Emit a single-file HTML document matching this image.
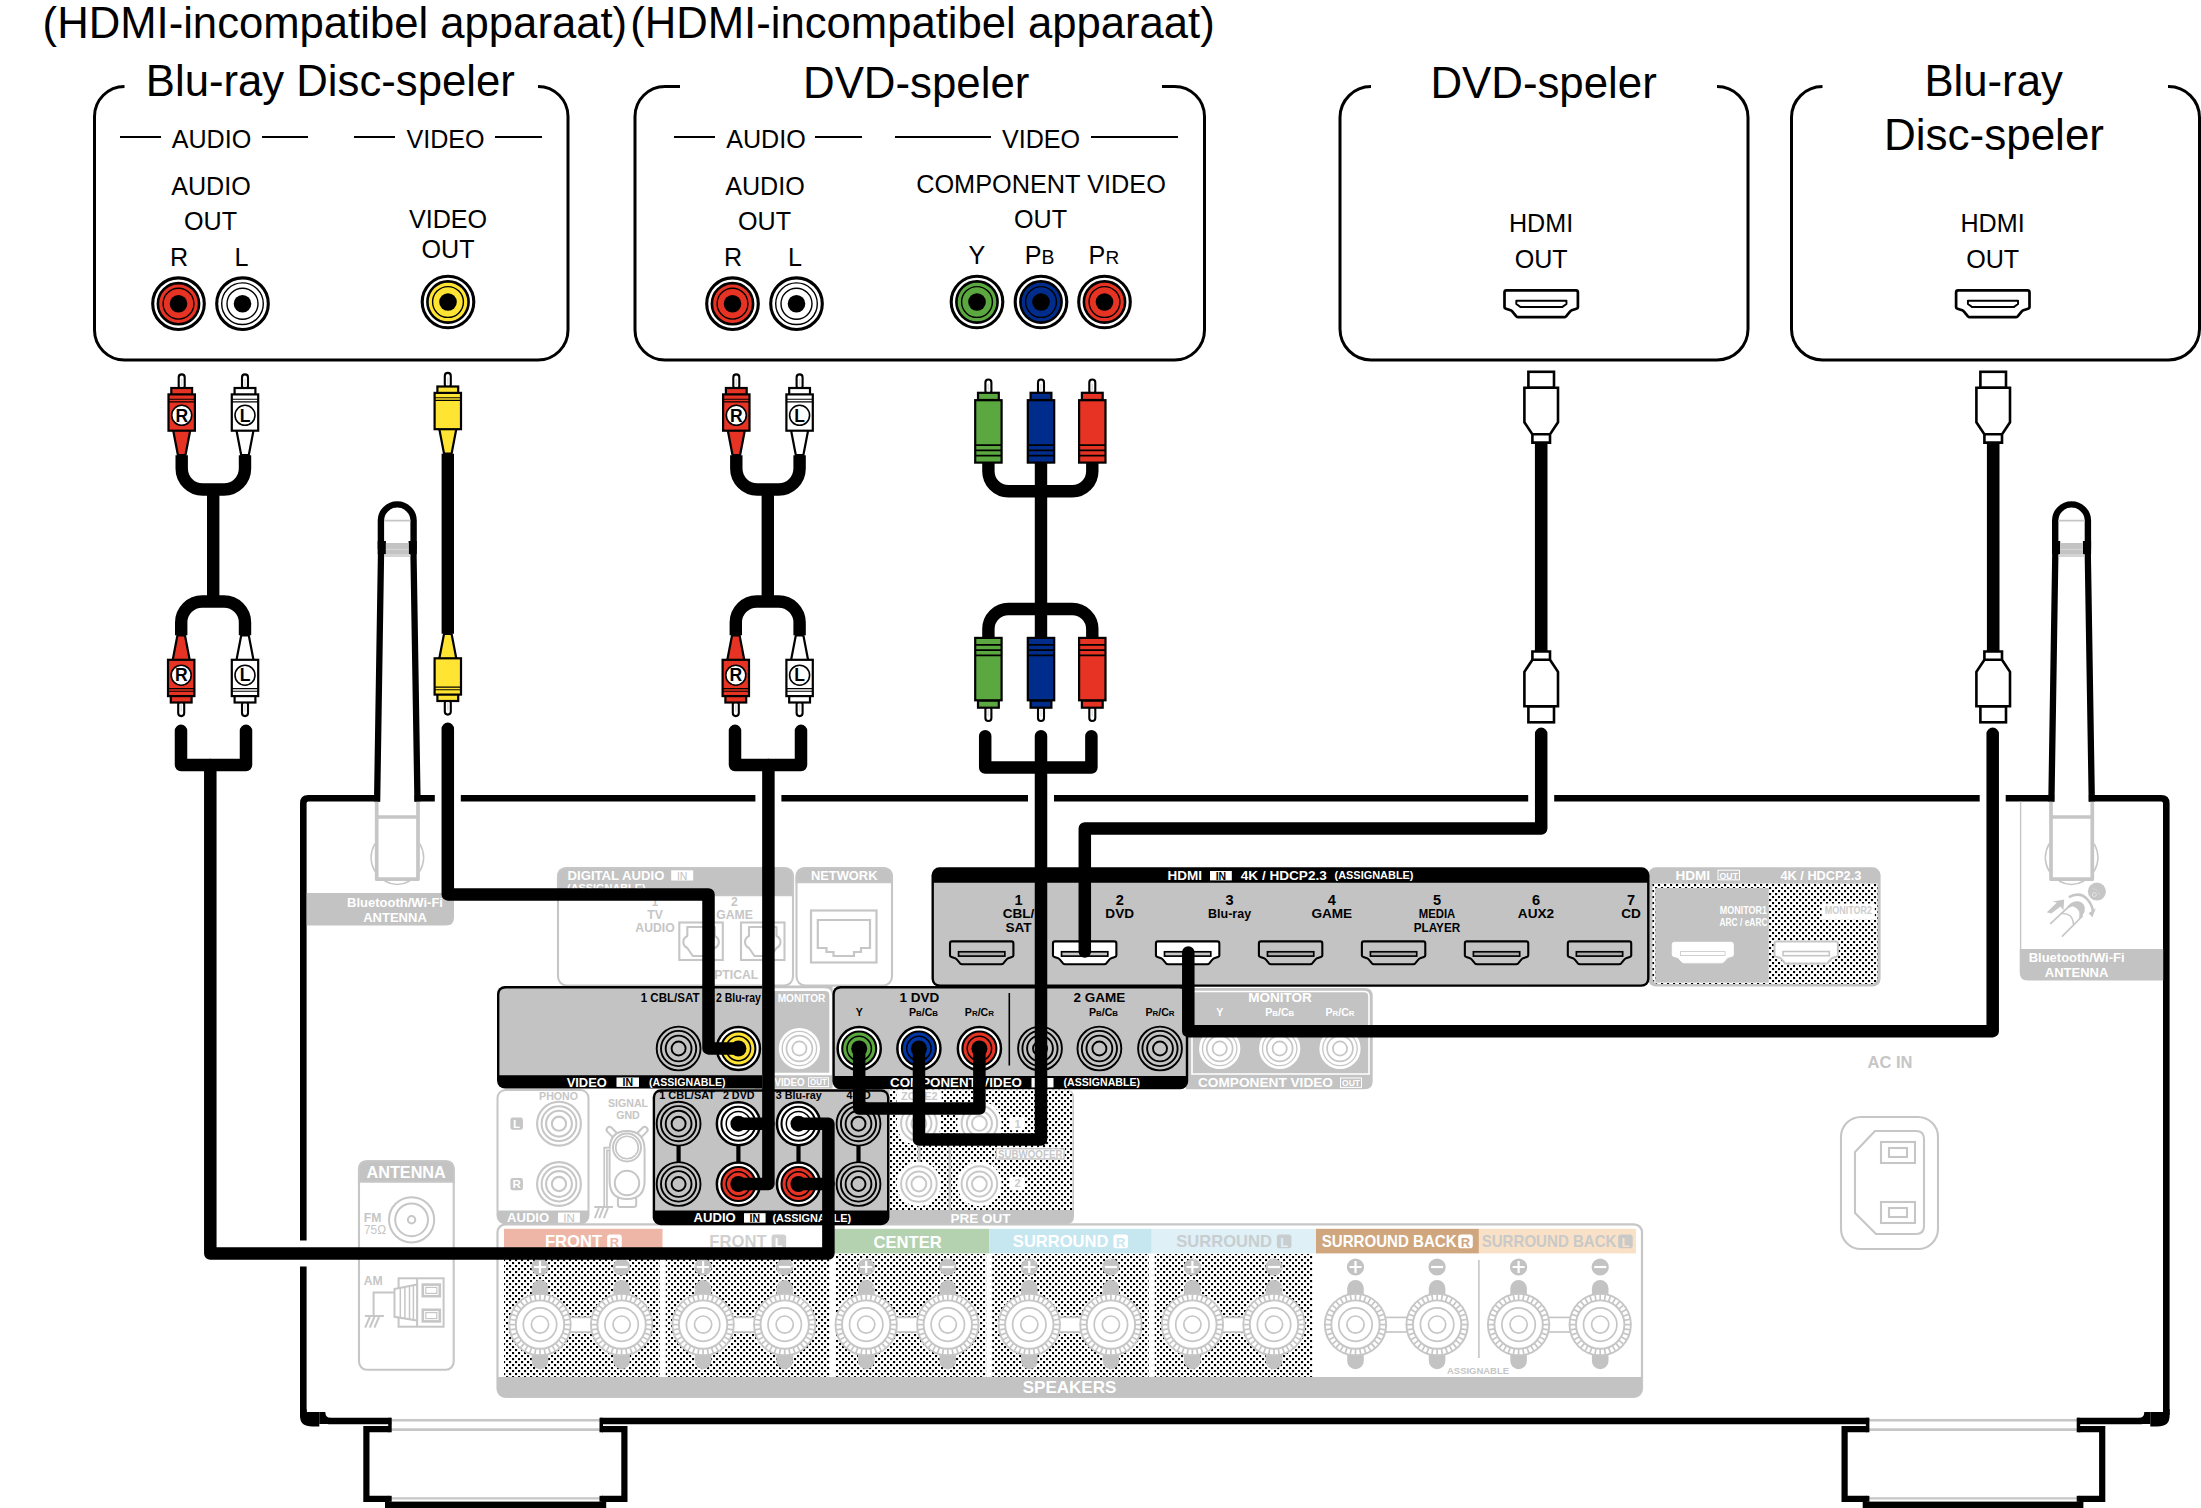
<!DOCTYPE html>
<html><head><meta charset="utf-8"><title>Aansluitingen</title>
<style>html,body{margin:0;padding:0;background:#fff}svg{display:block}text{font-family:"Liberation Sans",sans-serif}</style>
</head><body>
<svg width="2201" height="1508" viewBox="0 0 2201 1508">
<rect width="2201" height="1508" fill="#fff"/>
<defs>
<pattern id="dots" x="2" y="2" width="6" height="6" patternUnits="userSpaceOnUse">
<rect x="0" y="0" width="6" height="6" fill="#fff"/>
<rect x="0" y="0" width="2.1" height="2.1" fill="#000"/><rect x="3" y="3" width="2.1" height="2.1" fill="#000"/>
</pattern>
</defs>
<text x="42.6" y="37.8" font-size="43.65" text-anchor="start" font-weight="normal" fill="#000" >(HDMI-incompatibel apparaat)</text>
<text x="630.2" y="37.8" font-size="43.65" text-anchor="start" font-weight="normal" fill="#000" >(HDMI-incompatibel apparaat)</text>
<path d="M124.5,86.5 H124.5 A30,30 0 0 0 94.5,116.5 V330 A30,30 0 0 0 124.5,360 H538 A30,30 0 0 0 568,330 V116.5 A30,30 0 0 0 538,86.5 H538" fill="none" stroke="#000" stroke-width="3"/>
<path d="M680,86.5 H665 A30,30 0 0 0 635,116.5 V330 A30,30 0 0 0 665,360 H1174.5 A30,30 0 0 0 1204.5,330 V116.5 A30,30 0 0 0 1174.5,86.5 H1162" fill="none" stroke="#000" stroke-width="3"/>
<path d="M1371,86.5 H1371 A31,31 0 0 0 1340,117.5 V329 A31,31 0 0 0 1371,360 H1717 A31,31 0 0 0 1748,329 V117.5 A31,31 0 0 0 1717,86.5 H1717" fill="none" stroke="#000" stroke-width="3"/>
<path d="M1822.5,86.5 H1822.5 A31,31 0 0 0 1791.5,117.5 V329 A31,31 0 0 0 1822.5,360 H2168.5 A31,31 0 0 0 2199.5,329 V117.5 A31,31 0 0 0 2168.5,86.5 H2168" fill="none" stroke="#000" stroke-width="3"/>
<text x="330.3" y="95.6" font-size="43.7" text-anchor="middle" font-weight="normal" fill="#000" >Blu-ray Disc-speler</text>
<text x="916.2" y="97.5" font-size="43.8" text-anchor="middle" font-weight="normal" fill="#000" >DVD-speler</text>
<text x="1543.6" y="98" font-size="43.8" text-anchor="middle" font-weight="normal" fill="#000" >DVD-speler</text>
<text x="1993.6" y="96" font-size="43.7" text-anchor="middle" font-weight="normal" fill="#000" >Blu-ray</text>
<text x="1994" y="149.5" font-size="44" text-anchor="middle" font-weight="normal" fill="#000" >Disc-speler</text>
<text x="211.5" y="147.5" font-size="25.15" text-anchor="middle" font-weight="normal" fill="#000" >AUDIO</text>
<path d="M120,137 H161 M262,137 H308" stroke="#000" stroke-width="1.8"/>
<text x="445.5" y="147.5" font-size="25.15" text-anchor="middle" font-weight="normal" fill="#000" >VIDEO</text>
<path d="M354,137 H395 M495,137 H542" stroke="#000" stroke-width="1.8"/>
<text x="766" y="147.5" font-size="25.15" text-anchor="middle" font-weight="normal" fill="#000" >AUDIO</text>
<path d="M674,137 H715 M815,137 H862" stroke="#000" stroke-width="1.8"/>
<text x="1041" y="147.5" font-size="25.15" text-anchor="middle" font-weight="normal" fill="#000" >VIDEO</text>
<path d="M895,137 H991 M1091,137 H1178" stroke="#000" stroke-width="1.8"/>
<text x="211" y="195" font-size="25.15" text-anchor="middle" font-weight="normal" fill="#000" >AUDIO</text>
<text x="210.5" y="230" font-size="25.15" text-anchor="middle" font-weight="normal" fill="#000" >OUT</text>
<text x="179" y="265.5" font-size="25.15" text-anchor="middle" font-weight="normal" fill="#000" >R</text>
<text x="241.5" y="265.5" font-size="25.15" text-anchor="middle" font-weight="normal" fill="#000" >L</text>
<text x="448" y="227.5" font-size="25.15" text-anchor="middle" font-weight="normal" fill="#000" >VIDEO</text>
<text x="448" y="258" font-size="25.15" text-anchor="middle" font-weight="normal" fill="#000" >OUT</text>
<text x="765" y="195" font-size="25.15" text-anchor="middle" font-weight="normal" fill="#000" >AUDIO</text>
<text x="764.5" y="230" font-size="25.15" text-anchor="middle" font-weight="normal" fill="#000" >OUT</text>
<text x="733" y="265.5" font-size="25.15" text-anchor="middle" font-weight="normal" fill="#000" >R</text>
<text x="795" y="265.5" font-size="25.15" text-anchor="middle" font-weight="normal" fill="#000" >L</text>
<text x="1041" y="193" font-size="25.3" text-anchor="middle" font-weight="normal" fill="#000" >COMPONENT VIDEO</text>
<text x="1040.5" y="228" font-size="25.15" text-anchor="middle" font-weight="normal" fill="#000" >OUT</text>
<text x="977" y="263.5" font-size="25.15" text-anchor="middle" font-weight="normal" fill="#000" >Y</text>
<text x="1024.8" y="263.5" font-size="25.15">P<tspan font-size="19.4">B</tspan></text>
<text x="1088.6" y="263.5" font-size="25.15">P<tspan font-size="19">R</tspan></text>
<text x="1541" y="232" font-size="25.15" text-anchor="middle" font-weight="normal" fill="#000" >HDMI</text>
<text x="1541.2" y="267.9" font-size="25.15" text-anchor="middle" font-weight="normal" fill="#000" >OUT</text>
<text x="1992.5" y="232" font-size="25.15" text-anchor="middle" font-weight="normal" fill="#000" >HDMI</text>
<text x="1992.7" y="267.9" font-size="25.15" text-anchor="middle" font-weight="normal" fill="#000" >OUT</text>
<circle cx="178.5" cy="303.7" r="25.8" fill="#fff" stroke="#000" stroke-width="3.1"/>
<circle cx="178.5" cy="303.7" r="20.6" fill="#e63323" stroke="#000" stroke-width="2.6"/>
<circle cx="178.5" cy="303.7" r="15.4" fill="#e63323" stroke="#000" stroke-width="1.4"/>
<circle cx="178.5" cy="303.7" r="8.8" fill="#000"/>
<circle cx="242.5" cy="303.7" r="25.8" fill="#fff" stroke="#000" stroke-width="3.1"/>
<circle cx="242.5" cy="303.7" r="20.8" fill="#fff" stroke="#000" stroke-width="1.4"/>
<circle cx="242.5" cy="303.7" r="15.5" fill="#fff" stroke="#000" stroke-width="1.4"/>
<circle cx="242.5" cy="303.7" r="8.8" fill="#000"/>
<circle cx="448" cy="302" r="25.8" fill="#fff" stroke="#000" stroke-width="3.1"/>
<circle cx="448" cy="302" r="20.6" fill="#ffe433" stroke="#000" stroke-width="2.6"/>
<circle cx="448" cy="302" r="15.4" fill="#ffe433" stroke="#000" stroke-width="1.4"/>
<circle cx="448" cy="302" r="8.8" fill="#000"/>
<circle cx="732.5" cy="303.7" r="25.8" fill="#fff" stroke="#000" stroke-width="3.1"/>
<circle cx="732.5" cy="303.7" r="20.6" fill="#e63323" stroke="#000" stroke-width="2.6"/>
<circle cx="732.5" cy="303.7" r="15.4" fill="#e63323" stroke="#000" stroke-width="1.4"/>
<circle cx="732.5" cy="303.7" r="8.8" fill="#000"/>
<circle cx="796.5" cy="303.7" r="25.8" fill="#fff" stroke="#000" stroke-width="3.1"/>
<circle cx="796.5" cy="303.7" r="20.8" fill="#fff" stroke="#000" stroke-width="1.4"/>
<circle cx="796.5" cy="303.7" r="15.5" fill="#fff" stroke="#000" stroke-width="1.4"/>
<circle cx="796.5" cy="303.7" r="8.8" fill="#000"/>
<circle cx="977" cy="302" r="25.8" fill="#fff" stroke="#000" stroke-width="3.1"/>
<circle cx="977" cy="302" r="20.6" fill="#5aa83f" stroke="#000" stroke-width="2.6"/>
<circle cx="977" cy="302" r="15.4" fill="#5aa83f" stroke="#000" stroke-width="1.4"/>
<circle cx="977" cy="302" r="8.8" fill="#000"/>
<circle cx="1041" cy="302" r="25.8" fill="#fff" stroke="#000" stroke-width="3.1"/>
<circle cx="1041" cy="302" r="20.6" fill="#002c8c" stroke="#000" stroke-width="2.6"/>
<circle cx="1041" cy="302" r="15.4" fill="#002c8c" stroke="#000" stroke-width="1.4"/>
<circle cx="1041" cy="302" r="8.8" fill="#000"/>
<circle cx="1104.5" cy="302" r="25.8" fill="#fff" stroke="#000" stroke-width="3.1"/>
<circle cx="1104.5" cy="302" r="20.6" fill="#e63323" stroke="#000" stroke-width="2.6"/>
<circle cx="1104.5" cy="302" r="15.4" fill="#e63323" stroke="#000" stroke-width="1.4"/>
<circle cx="1104.5" cy="302" r="8.8" fill="#000"/>
<path d="M1506.5,290.4 H1575.9 Q1577.9,290.4 1577.9,292.4 V307.1952 Q1577.9,308.1952 1576.4,308.6952 L1571.7802000000001,310.2072 Q1570.7802000000001,310.6072 1570.1802000000002,311.4072 L1566.0752,316.4 Q1565.2752,317.2 1564.0752,317.2 H1518.3248 Q1517.1248,317.2 1516.3248,316.4 L1512.2197999999999,311.4072 Q1511.6198,310.6072 1510.6198,310.2072 L1506.0,308.6952 Q1504.5,308.1952 1504.5,307.1952 V292.4 Q1504.5,290.4 1506.5,290.4 Z" fill="#fff" stroke="#000" stroke-width="2.7" stroke-linejoin="round"/>
<path d="M1516.3174,300.79839999999996 H1566.4496000000001 V304.068 L1562.1190000000001,307.09639999999996 H1520.648 L1516.3174,304.068 Z" fill="#fff" stroke="#000" stroke-width="1.944" stroke-linejoin="round"/>
<path d="M1958.1,290.4 H2027.5 Q2029.5,290.4 2029.5,292.4 V307.1952 Q2029.5,308.1952 2028.0,308.6952 L2023.3802,310.2072 Q2022.3802,310.6072 2021.7802000000001,311.4072 L2017.6752,316.4 Q2016.8752,317.2 2015.6752,317.2 H1969.9248 Q1968.7248,317.2 1967.9248,316.4 L1963.8197999999998,311.4072 Q1963.2197999999999,310.6072 1962.2197999999999,310.2072 L1957.6,308.6952 Q1956.1,308.1952 1956.1,307.1952 V292.4 Q1956.1,290.4 1958.1,290.4 Z" fill="#fff" stroke="#000" stroke-width="2.7" stroke-linejoin="round"/>
<path d="M1967.9173999999998,300.79839999999996 H2018.0496 V304.068 L2013.719,307.09639999999996 H1972.2479999999998 L1967.9173999999998,304.068 Z" fill="#fff" stroke="#000" stroke-width="1.944" stroke-linejoin="round"/>
<path d="M181.7,455.3 V468.5 A21,21 0 0 0 202.7,489.5 H224 A21,21 0 0 0 245,468.5 V455.3" fill="none" stroke="#000" stroke-width="12.4" stroke-linecap="butt" stroke-linejoin="round"/>
<path d="M213.2,489 V602" fill="none" stroke="#000" stroke-width="12.4" stroke-linecap="butt" stroke-linejoin="round"/>
<path d="M181.2,635.2 V622.5 A21,21 0 0 1 202.2,601.5 H224 A21,21 0 0 1 245,622.5 V635.2" fill="none" stroke="#000" stroke-width="12.4" stroke-linecap="butt" stroke-linejoin="round"/>
<rect x="178.7" y="374.4" width="6" height="14.600000000000023" rx="3" fill="#fff" stroke="#000" stroke-width="2.1"/>
<path d="M181.7,379 V386" stroke="#e2e2e2" stroke-width="1.6"/>
<path d="M173.1,430 L177.89999999999998,455 H185.5 L190.29999999999998,430 Z" fill="#e63323" stroke="#000" stroke-width="2.2" stroke-linejoin="round"/>
<rect x="171.29999999999998" y="388.0" width="20.8" height="7.0" fill="#e63323" stroke="#000" stroke-width="2.2"/>
<rect x="168.5" y="394.4" width="26.4" height="36.30000000000001" fill="#e63323" stroke="#000" stroke-width="2.2"/>
<path d="M168.7,399.3 H194.7 M168.7,401.9 H194.7" stroke="#000" stroke-width="1.1"/>
<circle cx="181.7" cy="415.3" r="10" fill="#fff" stroke="#000" stroke-width="1.6"/>
<text x="181.7" y="421.5" font-size="17.5" text-anchor="middle" font-weight="bold" fill="#000" >R</text>
<rect x="242" y="374.4" width="6" height="14.600000000000023" rx="3" fill="#fff" stroke="#000" stroke-width="2.1"/>
<path d="M245,379 V386" stroke="#e2e2e2" stroke-width="1.6"/>
<path d="M236.4,430 L241.2,455 H248.8 L253.6,430 Z" fill="#fff" stroke="#000" stroke-width="2.2" stroke-linejoin="round"/>
<rect x="234.6" y="388.0" width="20.8" height="7.0" fill="#fff" stroke="#000" stroke-width="2.2"/>
<rect x="231.8" y="394.4" width="26.4" height="36.30000000000001" fill="#fff" stroke="#000" stroke-width="2.2"/>
<path d="M232,399.3 H258 M232,401.9 H258" stroke="#000" stroke-width="1.1"/>
<circle cx="245" cy="415.3" r="10" fill="#fff" stroke="#000" stroke-width="1.6"/>
<text x="245" y="421.5" font-size="17.5" text-anchor="middle" font-weight="bold" fill="#000" >L</text>
<rect x="178.2" y="701.5" width="6" height="14.600000000000023" rx="3" fill="#fff" stroke="#000" stroke-width="2.1"/>
<path d="M181.2,711.5 V704.5" stroke="#e2e2e2" stroke-width="1.6"/>
<path d="M172.6,660.5 L177.39999999999998,635.5 H185.0 L189.79999999999998,660.5 Z" fill="#e63323" stroke="#000" stroke-width="2.2" stroke-linejoin="round"/>
<rect x="170.79999999999998" y="695.5" width="20.8" height="7.0" fill="#e63323" stroke="#000" stroke-width="2.2"/>
<rect x="168.0" y="659.8" width="26.4" height="36.30000000000007" fill="#e63323" stroke="#000" stroke-width="2.2"/>
<path d="M168.2,691.2 H194.2 M168.2,688.6 H194.2" stroke="#000" stroke-width="1.1"/>
<circle cx="181.2" cy="675.2" r="10" fill="#fff" stroke="#000" stroke-width="1.6"/>
<text x="181.2" y="681.4000000000001" font-size="17.5" text-anchor="middle" font-weight="bold" fill="#000" >R</text>
<rect x="242" y="701.5" width="6" height="14.600000000000023" rx="3" fill="#fff" stroke="#000" stroke-width="2.1"/>
<path d="M245,711.5 V704.5" stroke="#e2e2e2" stroke-width="1.6"/>
<path d="M236.4,660.5 L241.2,635.5 H248.8 L253.6,660.5 Z" fill="#fff" stroke="#000" stroke-width="2.2" stroke-linejoin="round"/>
<rect x="234.6" y="695.5" width="20.8" height="7.0" fill="#fff" stroke="#000" stroke-width="2.2"/>
<rect x="231.8" y="659.8" width="26.4" height="36.30000000000007" fill="#fff" stroke="#000" stroke-width="2.2"/>
<path d="M232,691.2 H258 M232,688.6 H258" stroke="#000" stroke-width="1.1"/>
<circle cx="245" cy="675.2" r="10" fill="#fff" stroke="#000" stroke-width="1.6"/>
<text x="245" y="681.4000000000001" font-size="17.5" text-anchor="middle" font-weight="bold" fill="#000" >L</text>
<path d="M736.3,455.3 V468.5 A21,21 0 0 0 757.3,489.5 H778.6 A21,21 0 0 0 799.6,468.5 V455.3" fill="none" stroke="#000" stroke-width="12.4" stroke-linecap="butt" stroke-linejoin="round"/>
<path d="M767.8,489 V602" fill="none" stroke="#000" stroke-width="12.4" stroke-linecap="butt" stroke-linejoin="round"/>
<path d="M735.8,635.2 V622.5 A21,21 0 0 1 756.8,601.5 H778.6 A21,21 0 0 1 799.6,622.5 V635.2" fill="none" stroke="#000" stroke-width="12.4" stroke-linecap="butt" stroke-linejoin="round"/>
<rect x="733.3" y="374.4" width="6" height="14.600000000000023" rx="3" fill="#fff" stroke="#000" stroke-width="2.1"/>
<path d="M736.3,379 V386" stroke="#e2e2e2" stroke-width="1.6"/>
<path d="M727.6999999999999,430 L732.5,455 H740.0999999999999 L744.9,430 Z" fill="#e63323" stroke="#000" stroke-width="2.2" stroke-linejoin="round"/>
<rect x="725.9" y="388.0" width="20.8" height="7.0" fill="#e63323" stroke="#000" stroke-width="2.2"/>
<rect x="723.0999999999999" y="394.4" width="26.4" height="36.30000000000001" fill="#e63323" stroke="#000" stroke-width="2.2"/>
<path d="M723.3,399.3 H749.3 M723.3,401.9 H749.3" stroke="#000" stroke-width="1.1"/>
<circle cx="736.3" cy="415.3" r="10" fill="#fff" stroke="#000" stroke-width="1.6"/>
<text x="736.3" y="421.5" font-size="17.5" text-anchor="middle" font-weight="bold" fill="#000" >R</text>
<rect x="796.6" y="374.4" width="6" height="14.600000000000023" rx="3" fill="#fff" stroke="#000" stroke-width="2.1"/>
<path d="M799.6,379 V386" stroke="#e2e2e2" stroke-width="1.6"/>
<path d="M791.0,430 L795.8000000000001,455 H803.4 L808.2,430 Z" fill="#fff" stroke="#000" stroke-width="2.2" stroke-linejoin="round"/>
<rect x="789.2" y="388.0" width="20.8" height="7.0" fill="#fff" stroke="#000" stroke-width="2.2"/>
<rect x="786.4" y="394.4" width="26.4" height="36.30000000000001" fill="#fff" stroke="#000" stroke-width="2.2"/>
<path d="M786.6,399.3 H812.6 M786.6,401.9 H812.6" stroke="#000" stroke-width="1.1"/>
<circle cx="799.6" cy="415.3" r="10" fill="#fff" stroke="#000" stroke-width="1.6"/>
<text x="799.6" y="421.5" font-size="17.5" text-anchor="middle" font-weight="bold" fill="#000" >L</text>
<rect x="732.8" y="701.5" width="6" height="14.600000000000023" rx="3" fill="#fff" stroke="#000" stroke-width="2.1"/>
<path d="M735.8,711.5 V704.5" stroke="#e2e2e2" stroke-width="1.6"/>
<path d="M727.1999999999999,660.5 L732.0,635.5 H739.5999999999999 L744.4,660.5 Z" fill="#e63323" stroke="#000" stroke-width="2.2" stroke-linejoin="round"/>
<rect x="725.4" y="695.5" width="20.8" height="7.0" fill="#e63323" stroke="#000" stroke-width="2.2"/>
<rect x="722.5999999999999" y="659.8" width="26.4" height="36.30000000000007" fill="#e63323" stroke="#000" stroke-width="2.2"/>
<path d="M722.8,691.2 H748.8 M722.8,688.6 H748.8" stroke="#000" stroke-width="1.1"/>
<circle cx="735.8" cy="675.2" r="10" fill="#fff" stroke="#000" stroke-width="1.6"/>
<text x="735.8" y="681.4000000000001" font-size="17.5" text-anchor="middle" font-weight="bold" fill="#000" >R</text>
<rect x="796.6" y="701.5" width="6" height="14.600000000000023" rx="3" fill="#fff" stroke="#000" stroke-width="2.1"/>
<path d="M799.6,711.5 V704.5" stroke="#e2e2e2" stroke-width="1.6"/>
<path d="M791.0,660.5 L795.8000000000001,635.5 H803.4 L808.2,660.5 Z" fill="#fff" stroke="#000" stroke-width="2.2" stroke-linejoin="round"/>
<rect x="789.2" y="695.5" width="20.8" height="7.0" fill="#fff" stroke="#000" stroke-width="2.2"/>
<rect x="786.4" y="659.8" width="26.4" height="36.30000000000007" fill="#fff" stroke="#000" stroke-width="2.2"/>
<path d="M786.6,691.2 H812.6 M786.6,688.6 H812.6" stroke="#000" stroke-width="1.1"/>
<circle cx="799.6" cy="675.2" r="10" fill="#fff" stroke="#000" stroke-width="1.6"/>
<text x="799.6" y="681.4000000000001" font-size="17.5" text-anchor="middle" font-weight="bold" fill="#000" >L</text>
<path d="M447.8,453.8 V633.7" fill="none" stroke="#000" stroke-width="12.4" stroke-linecap="butt" stroke-linejoin="round"/>
<rect x="444.8" y="372.9" width="6" height="14.600000000000023" rx="3" fill="#fff" stroke="#000" stroke-width="2.1"/>
<path d="M447.8,377.5 V384.5" stroke="#e2e2e2" stroke-width="1.6"/>
<path d="M439.2,428.5 L444.0,453.5 H451.6 L456.40000000000003,428.5 Z" fill="#ffe433" stroke="#000" stroke-width="2.2" stroke-linejoin="round"/>
<rect x="437.40000000000003" y="386.5" width="20.8" height="7.0" fill="#ffe433" stroke="#000" stroke-width="2.2"/>
<rect x="434.6" y="392.9" width="26.4" height="36.30000000000001" fill="#ffe433" stroke="#000" stroke-width="2.2"/>
<path d="M434.8,397.8 H460.8 M434.8,400.4 H460.8" stroke="#000" stroke-width="1.1"/>
<rect x="444.8" y="700" width="6" height="14.600000000000023" rx="3" fill="#fff" stroke="#000" stroke-width="2.1"/>
<path d="M447.8,710 V703" stroke="#e2e2e2" stroke-width="1.6"/>
<path d="M439.2,659 L444.0,634 H451.6 L456.40000000000003,659 Z" fill="#ffe433" stroke="#000" stroke-width="2.2" stroke-linejoin="round"/>
<rect x="437.40000000000003" y="694" width="20.8" height="7.0" fill="#ffe433" stroke="#000" stroke-width="2.2"/>
<rect x="434.6" y="658.3" width="26.4" height="36.30000000000007" fill="#ffe433" stroke="#000" stroke-width="2.2"/>
<path d="M434.8,689.7 H460.8 M434.8,687.1 H460.8" stroke="#000" stroke-width="1.1"/>
<path d="M988.4,462 V471.3 A20,20 0 0 0 1008.4,491.3 H1072.3 A20,20 0 0 0 1092.3,471.3 V462" fill="none" stroke="#000" stroke-width="12.4" stroke-linecap="butt" stroke-linejoin="round"/>
<path d="M1041,462 V640" fill="none" stroke="#000" stroke-width="12.4" stroke-linecap="butt" stroke-linejoin="round"/>
<path d="M988.4,640 V629 A20,20 0 0 1 1008.4,609 H1072.3 A20,20 0 0 1 1092.3,629 V640" fill="none" stroke="#000" stroke-width="12.4" stroke-linecap="butt" stroke-linejoin="round"/>
<rect x="985.4" y="379.5" width="6" height="14.5" rx="3" fill="#fff" stroke="#000" stroke-width="2.1"/>
<path d="M988.4,384 V391" stroke="#e2e2e2" stroke-width="1.6"/>
<rect x="978.0" y="392.8" width="20.8" height="7.199999999999989" fill="#5aa83f" stroke="#000" stroke-width="2.2"/>
<rect x="975.1999999999999" y="400.2" width="26.4" height="62.400000000000034" fill="#5aa83f" stroke="#000" stroke-width="2.2"/>
<path d="M975.4,445.2 H1001.4 M975.4,450.4 H1001.4 M975.4,455.7 H1001.4" stroke="#000" stroke-width="1.7"/>
<rect x="985.4" y="706.5" width="6" height="14.5" rx="3" fill="#fff" stroke="#000" stroke-width="2.1"/>
<path d="M988.4,716.5 V709.5" stroke="#e2e2e2" stroke-width="1.6"/>
<rect x="978.0" y="700.5" width="20.8" height="7.2000000000000455" fill="#5aa83f" stroke="#000" stroke-width="2.2"/>
<rect x="975.1999999999999" y="637.9" width="26.4" height="62.39999999999998" fill="#5aa83f" stroke="#000" stroke-width="2.2"/>
<path d="M975.4,655.3 H1001.4 M975.4,650.1 H1001.4 M975.4,644.8 H1001.4" stroke="#000" stroke-width="1.7"/>
<rect x="1038" y="379.5" width="6" height="14.5" rx="3" fill="#fff" stroke="#000" stroke-width="2.1"/>
<path d="M1041,384 V391" stroke="#e2e2e2" stroke-width="1.6"/>
<rect x="1030.6" y="392.8" width="20.8" height="7.199999999999989" fill="#002c8c" stroke="#000" stroke-width="2.2"/>
<rect x="1027.8" y="400.2" width="26.4" height="62.400000000000034" fill="#002c8c" stroke="#000" stroke-width="2.2"/>
<path d="M1028,445.2 H1054 M1028,450.4 H1054 M1028,455.7 H1054" stroke="#000" stroke-width="1.7"/>
<rect x="1038" y="706.5" width="6" height="14.5" rx="3" fill="#fff" stroke="#000" stroke-width="2.1"/>
<path d="M1041,716.5 V709.5" stroke="#e2e2e2" stroke-width="1.6"/>
<rect x="1030.6" y="700.5" width="20.8" height="7.2000000000000455" fill="#002c8c" stroke="#000" stroke-width="2.2"/>
<rect x="1027.8" y="637.9" width="26.4" height="62.39999999999998" fill="#002c8c" stroke="#000" stroke-width="2.2"/>
<path d="M1028,655.3 H1054 M1028,650.1 H1054 M1028,644.8 H1054" stroke="#000" stroke-width="1.7"/>
<rect x="1089.3" y="379.5" width="6" height="14.5" rx="3" fill="#fff" stroke="#000" stroke-width="2.1"/>
<path d="M1092.3,384 V391" stroke="#e2e2e2" stroke-width="1.6"/>
<rect x="1081.8999999999999" y="392.8" width="20.8" height="7.199999999999989" fill="#e63323" stroke="#000" stroke-width="2.2"/>
<rect x="1079.1" y="400.2" width="26.4" height="62.400000000000034" fill="#e63323" stroke="#000" stroke-width="2.2"/>
<path d="M1079.3,445.2 H1105.3 M1079.3,450.4 H1105.3 M1079.3,455.7 H1105.3" stroke="#000" stroke-width="1.7"/>
<rect x="1089.3" y="706.5" width="6" height="14.5" rx="3" fill="#fff" stroke="#000" stroke-width="2.1"/>
<path d="M1092.3,716.5 V709.5" stroke="#e2e2e2" stroke-width="1.6"/>
<rect x="1081.8999999999999" y="700.5" width="20.8" height="7.2000000000000455" fill="#e63323" stroke="#000" stroke-width="2.2"/>
<rect x="1079.1" y="637.9" width="26.4" height="62.39999999999998" fill="#e63323" stroke="#000" stroke-width="2.2"/>
<path d="M1079.3,655.3 H1105.3 M1079.3,650.1 H1105.3 M1079.3,644.8 H1105.3" stroke="#000" stroke-width="1.7"/>
<path d="M1541.2,440 V655" fill="none" stroke="#000" stroke-width="12.6" stroke-linecap="butt" stroke-linejoin="round"/>
<path d="M1993.2,440 V655" fill="none" stroke="#000" stroke-width="12.6" stroke-linecap="butt" stroke-linejoin="round"/>
<rect x="1528.4" y="371.8" width="25.6" height="16.0" fill="#fff" stroke="#000" stroke-width="2.6"/>
<path d="M1524.4,387.8 H1558.0 V422.3 L1550.0,434.3 V442.6 H1532.4 V434.3 L1524.4,422.3 Z M1532.4,434.3 H1550.0" fill="#fff" stroke="#000" stroke-width="2.6" stroke-linejoin="miter"/>
<rect x="1528.4" y="706.3" width="25.6" height="16.0" fill="#fff" stroke="#000" stroke-width="2.6"/>
<path d="M1524.4,706.3 H1558.0 V671.8 L1550.0,659.8 V651.5 H1532.4 V659.8 L1524.4,671.8 Z M1532.4,659.8 H1550.0" fill="#fff" stroke="#000" stroke-width="2.6" stroke-linejoin="miter"/>
<rect x="1980.4" y="371.8" width="25.6" height="16.0" fill="#fff" stroke="#000" stroke-width="2.6"/>
<path d="M1976.4,387.8 H2010.0 V422.3 L2002.0,434.3 V442.6 H1984.4 V434.3 L1976.4,422.3 Z M1984.4,434.3 H2002.0" fill="#fff" stroke="#000" stroke-width="2.6" stroke-linejoin="miter"/>
<rect x="1980.4" y="706.3" width="25.6" height="16.0" fill="#fff" stroke="#000" stroke-width="2.6"/>
<path d="M1976.4,706.3 H2010.0 V671.8 L2002.0,659.8 V651.5 H1984.4 V659.8 L1976.4,671.8 Z M1984.4,659.8 H2002.0" fill="#fff" stroke="#000" stroke-width="2.6" stroke-linejoin="miter"/>
<path d="M303.3,1413 V803.3 Q303.3,798.3 308.3,798.3 H2161.3 Q2166.3,798.3 2166.3,803.3 V1415" fill="none" stroke="#000" stroke-width="6.6"/>
<path d="M328,1421 H2142" fill="none" stroke="#000" stroke-width="6.4"/>
<path d="M300.0,1409 V1416 Q300.0,1426.5 312.3,1426.5 H319.3 V1412 H306.6 V1409 Z" fill="#000"/>
<path d="M319.3,1412 H325.3 Q325.3,1418 331.3,1418 V1424 H319.3 Z" fill="#000"/>
<path d="M2169.6000000000004,1409 V1416 Q2169.6000000000004,1426.5 2157.3,1426.5 H2150.3 V1412 H2163.0 V1409 Z" fill="#000"/>
<path d="M2150.3,1412 H2144.3 Q2144.3,1418 2138.3,1418 V1424 H2150.3 Z" fill="#000"/>
<rect x="391.2" y="1417" width="208.8" height="14" fill="#fff"/>
<path d="M391.2,1420.2 H600 M391.2,1429.6 H600" stroke="#c6c6c6" stroke-width="2.6"/>
<path d="M391.2,1498.4 H600" stroke="#c6c6c6" stroke-width="2.4"/>
<path d="M389.2,1429.2 H366.4 V1498.9 H389.2 M602,1429.2 H624.4 V1498.9 H602" fill="none" stroke="#000" stroke-width="6.2" stroke-linejoin="miter"/>
<rect x="388.2" y="1417.8" width="3.5" height="14.5" fill="#000"/><rect x="599.5" y="1417.8" width="3.5" height="14.5" fill="#000"/>
<rect x="388.2" y="1495.8" width="3.5" height="6" fill="#000"/><rect x="599.5" y="1495.8" width="3.5" height="6" fill="#000"/>
<rect x="385.0" y="1501.6" width="221.20000000000002" height="8" fill="#000"/>
<rect x="1868.9" y="1417" width="208.29999999999973" height="14" fill="#fff"/>
<path d="M1868.9,1420.2 H2077.2 M1868.9,1429.6 H2077.2" stroke="#c6c6c6" stroke-width="2.6"/>
<path d="M1868.9,1498.4 H2077.2" stroke="#c6c6c6" stroke-width="2.4"/>
<path d="M1866.9,1429.2 H1844.6 V1498.9 H1866.9 M2079.2,1429.2 H2102.2 V1498.9 H2079.2" fill="none" stroke="#000" stroke-width="6.2" stroke-linejoin="miter"/>
<rect x="1865.9" y="1417.8" width="3.5" height="14.5" fill="#000"/><rect x="2076.7" y="1417.8" width="3.5" height="14.5" fill="#000"/>
<rect x="1865.9" y="1495.8" width="3.5" height="6" fill="#000"/><rect x="2076.7" y="1495.8" width="3.5" height="6" fill="#000"/>
<rect x="1862.7" y="1501.6" width="220.69999999999973" height="8" fill="#000"/>
<g fill="none" stroke="#c6c6c6" stroke-width="2.6">
<path d="M376.7,800 V879.2 H418.0 V800 M376.7,817 H418.0" stroke-width="3.7" stroke-linejoin="round"/>
<path d="M374.9,843.7 Q367.2,857.6 374.9,871.5 M419.8,843.7 Q427.5,857.6 419.8,871.5" stroke-width="1.5"/>
<path d="M384.7,881 Q397.2,888 409.7,881" stroke-width="1.5"/>
</g>
<rect x="379.9" y="793.3" width="34.6" height="10" fill="#fff"/>
<path d="M377.09999999999997,801.5999999999999 L381.09999999999997,548 M417.5,801.5999999999999 L413.4,548" stroke="#000" stroke-width="6.3" fill="none"/>
<path d="M380.9,549 V520.7 A16.35,16.35 0 0 1 413.59999999999997,520.7 V549" stroke="#000" stroke-width="6.4" fill="none"/>
<rect x="377.7" y="541" width="8.2" height="13.2" fill="#000"/><rect x="408.59999999999997" y="541" width="8.2" height="13.2" fill="#000"/>
<rect x="385.9" y="543" width="22.7" height="11.7" fill="#c3c3c3"/>
<path d="M385.9,549.4 H408.59999999999997" stroke="#d8d8d8" stroke-width="1"/>
<path d="M384.0,520.6 H410.4 M384.2,556 H410.4" stroke="#c6c6c6" stroke-width="1.6"/>
<g fill="none" stroke="#c6c6c6" stroke-width="2.6">
<path d="M2051.0,800 V879.2 H2092.3 V800 M2051.0,817 H2092.3" stroke-width="3.7" stroke-linejoin="round"/>
<path d="M2049.2,843.7 Q2041.5,857.6 2049.2,871.5 M2094.1,843.7 Q2101.8,857.6 2094.1,871.5" stroke-width="1.5"/>
<path d="M2059.0,881 Q2071.5,888 2084.0,881" stroke-width="1.5"/>
</g>
<rect x="2054.2" y="793.3" width="34.6" height="10" fill="#fff"/>
<path d="M2051.4,801.5999999999999 L2055.4,548 M2091.8,801.5999999999999 L2087.7,548" stroke="#000" stroke-width="6.3" fill="none"/>
<path d="M2055.2,549 V520.7 A16.35,16.35 0 0 1 2087.9,520.7 V549" stroke="#000" stroke-width="6.4" fill="none"/>
<rect x="2052.0" y="541" width="8.2" height="13.2" fill="#000"/><rect x="2082.9" y="541" width="8.2" height="13.2" fill="#000"/>
<rect x="2060.2" y="543" width="22.7" height="11.7" fill="#c3c3c3"/>
<path d="M2060.2,549.4 H2082.9" stroke="#d8d8d8" stroke-width="1"/>
<path d="M2058.3,520.6 H2084.7 M2058.5,556 H2084.7" stroke="#c6c6c6" stroke-width="1.6"/>
<path d="M2020.6,801.5 V949" stroke="#c6c6c6" stroke-width="1.4"/>
<circle cx="2096.9" cy="891.6" r="9" fill="#c6c6c6"/>
<circle cx="2094.3" cy="894.6" r="2" fill="none" stroke="#e4e4e4" stroke-width="1"/>
<path d="M2092.5,888.5 Q2098,889.5 2099.5,895" fill="none" stroke="#d4d4d4" stroke-width="1"/>
<path d="M2050.2,923.9 L2069.3,906.2 M2061.9,936.6 L2082.5,916" stroke="#c6c6c6" stroke-width="1.7" fill="none"/>
<path d="M2066.5,908.8 Q2070,900.5 2078.5,901.3 Q2086,903.2 2084.6,911.5 Q2083,916.5 2079,919.2 Q2081.5,908.5 2072.5,906.2 Z" fill="#c6c6c6"/>
<path d="M2061.5,913.5 Q2072.5,912.5 2073.5,924.5" fill="none" stroke="#c6c6c6" stroke-width="1.5"/>
<path d="M2068.8,897.2 Q2080,891 2087.5,899.5 Q2092.5,905.5 2092.8,911" fill="none" stroke="#c6c6c6" stroke-width="2.6"/>
<path d="M2088.6,913.2 L2095.8,908.3 L2092.4,917.2 Z" fill="#c6c6c6"/>
<path d="M2046.8,912.2 L2056.8,902.7 L2052.8,901.5 L2064.2,899.6 L2063.4,910.2 L2060.6,906.4 L2051.2,913.4 Z" fill="#c6c6c6"/>
<path d="M306.8,893 H454 V917.6 Q454,925.6 446,925.6 H306.8 Z" fill="#c3c3c3"/>
<text x="395" y="906.6" font-size="13" text-anchor="middle" font-weight="bold" fill="#fff" >Bluetooth/Wi-Fi</text>
<text x="395" y="921.8" font-size="13" text-anchor="middle" font-weight="bold" fill="#fff" >ANTENNA</text>
<path d="M2163.2,948.9 H2019.7 V972.6 Q2019.7,980.6 2027.7,980.6 H2163.2 Z" fill="#c3c3c3"/>
<text x="2076.6" y="962.3" font-size="13" text-anchor="middle" font-weight="bold" fill="#fff" >Bluetooth/Wi-Fi</text>
<text x="2076.6" y="977.3" font-size="13" text-anchor="middle" font-weight="bold" fill="#fff" >ANTENNA</text>
<text x="1890" y="1067.5" font-size="16.5" text-anchor="middle" font-weight="bold" fill="#c6c6c6" >AC IN</text>
<g fill="none" stroke="#c6c6c6" stroke-width="2.1"><rect x="1841" y="1117" width="97" height="132" rx="20"/><path d="M1875,1131 H1916 Q1924,1131 1924,1139 V1226 Q1924,1234 1916,1234 H1876 L1855,1213 V1152 Z" stroke-linejoin="round"/><rect x="1881" y="1142" width="34" height="21"/><rect x="1889" y="1148" width="18" height="9"/><rect x="1881" y="1202" width="34" height="21"/><rect x="1889" y="1208" width="18" height="9"/></g>
<rect x="359" y="1161.4" width="94.7" height="208.4" rx="8" fill="#fff" stroke="#c6c6c6" stroke-width="2.1"/>
<path d="M359,1181.7 V1169.4 Q359,1161.4 367,1161.4 H445.7 Q453.7,1161.4 453.7,1169.4 V1181.7 Z" fill="#c3c3c3" stroke="#c6c6c6" stroke-width="2.1"/>
<text x="366.5" y="1177.9" font-size="16.8" text-anchor="start" font-weight="bold" fill="#fff" textLength="79.3" lengthAdjust="spacingAndGlyphs">ANTENNA</text>
<text x="363.7" y="1221.7" font-size="12.2" text-anchor="start" font-weight="bold" fill="#c6c6c6" >FM</text>
<text x="364" y="1233.9" font-size="11.9" text-anchor="start" font-weight="normal" fill="#c6c6c6" >75Ω</text>
<g fill="#fff" stroke="#c6c6c6" stroke-width="2"><circle cx="411.6" cy="1219.8" r="22.6"/><circle cx="411.6" cy="1219.8" r="16.4"/><circle cx="411.6" cy="1219.8" r="3.7"/></g>
<text x="363.7" y="1285" font-size="12.2" text-anchor="start" font-weight="bold" fill="#c6c6c6" >AM</text>
<g fill="none" stroke="#c6c6c6" stroke-width="2"><rect x="398.6" y="1278.3" width="45" height="48.4"/><path d="M417.1,1278.3 V1326.7"/><path d="M394.5,1289 L417.1,1284.4 V1320.6 L394.5,1316.8 Z" fill="#fff"/><path d="M400.3,1288.5 V1317.2 M404.9,1287.5 V1318.2 M409.5,1286.6 V1319 M413.4,1285.8 V1319.8" stroke-width="1.5"/><rect x="422.8" y="1284.6" width="17" height="11.6" stroke-width="2.6"/><rect x="425.8" y="1287.4" width="11" height="6" stroke-width="1.2"/><rect x="422.8" y="1309.8" width="17" height="11.6" stroke-width="2.6"/><rect x="425.8" y="1312.6" width="11" height="6" stroke-width="1.2"/><path d="M394.5,1292.6 H373.6 V1315.6 M364.9,1315.9 H383.9 M369.8,1317 L365.2,1327.6 M374.4,1317 L369.8,1327.6 M379,1317 L374.4,1327.6"/></g>
<rect x="558" y="868" width="235" height="117.6" rx="9" fill="#fff" stroke="#c6c6c6" stroke-width="2.1"/>
<path d="M558,895.3 V877 Q558,868 567,868 H784 Q793,868 793,877 V895.3 Z" fill="#c3c3c3" stroke="#c6c6c6" stroke-width="2.1"/>
<text x="567.5" y="880.4" font-size="13.2" text-anchor="start" font-weight="bold" fill="#fff" textLength="97" lengthAdjust="spacingAndGlyphs">DIGITAL AUDIO</text>
<rect x="671.2" y="870.3" width="22" height="10.2" fill="#fff"/>
<text x="682.2" y="879.5" font-size="10.5" text-anchor="middle" font-weight="normal" fill="#c3c3c3" >IN</text>
<text x="567" y="891.8" font-size="10.9" text-anchor="start" font-weight="bold" fill="#fff" >(ASSIGNABLE)</text>
<text x="655" y="906" font-size="12.2" text-anchor="middle" font-weight="bold" fill="#c6c6c6" >1</text>
<text x="655" y="918.8" font-size="12.2" text-anchor="middle" font-weight="bold" fill="#c6c6c6" >TV</text>
<text x="655" y="931.6" font-size="12.2" text-anchor="middle" font-weight="bold" fill="#c6c6c6" >AUDIO</text>
<text x="734.5" y="906" font-size="12.2" text-anchor="middle" font-weight="bold" fill="#c6c6c6" >2</text>
<text x="734.5" y="918.8" font-size="12.2" text-anchor="middle" font-weight="bold" fill="#c6c6c6" >GAME</text>
<text x="731.5" y="979.3" font-size="12.2" text-anchor="middle" font-weight="bold" fill="#c6c6c6" >OPTICAL</text>
<g fill="none" stroke="#c6c6c6" stroke-width="2.1"><rect x="679.3" y="922.5" width="43.5" height="37.5"/><path d="M687.3,927 H714.8 V936 Q718.8,938 718.8,942 Q718.8,946 714.8,948 L709.3,956 H692.8 L687.3,948 Q683.3,946 683.3,942 Q683.3,938 687.3,936 Z" stroke-linejoin="round"/></g>
<g fill="none" stroke="#c6c6c6" stroke-width="2.1"><rect x="741" y="922.5" width="43.5" height="37.5"/><path d="M749,927 H776.5 V936 Q780.5,938 780.5,942 Q780.5,946 776.5,948 L771,956 H754.5 L749,948 Q745,946 745,942 Q745,938 749,936 Z" stroke-linejoin="round"/></g>
<rect x="796.5" y="868" width="95.5" height="117.6" rx="9" fill="#fff" stroke="#c6c6c6" stroke-width="2.1"/>
<path d="M796.5,882.3 V877 Q796.5,868 805.5,868 H883 Q892,868 892,877 V882.3 Z" fill="#c3c3c3" stroke="#c6c6c6" stroke-width="2.1"/>
<text x="844.2" y="880.4" font-size="13.2" text-anchor="middle" font-weight="bold" fill="#fff" textLength="66.5" lengthAdjust="spacingAndGlyphs">NETWORK</text>
<g fill="none" stroke="#c6c6c6" stroke-width="2.2"><rect x="811" y="910.5" width="65.5" height="52"/><path d="M817.8,920 H870 V948 H861 V952 H854 V956 H833.5 V952 H826.5 V948 H817.8 Z"/></g>
<rect x="755" y="985.5" width="77.6" height="103.1" fill="#c3c3c3"/>
<path d="M762,989.6 H825 Q830.6,989.6 830.6,995.2 V1074 H762" fill="none" stroke="#fff" stroke-width="2.6"/>
<rect x="497" y="986" width="273" height="102.59999999999991" rx="8" fill="#000"/>
<path d="M499.4,1075.2 H767.6 V994.6 Q767.6,988.4 761.4,988.4 H505.59999999999997 Q499.4,988.4 499.4,994.6 Z" fill="#c3c3c3"/>
<rect x="762" y="985" width="9" height="91" fill="#c3c3c3"/><rect x="762" y="1075.2" width="9" height="14" fill="#c3c3c3"/>
<path d="M762,989.6 H772 M762,1074 H772" fill="none" stroke="#fff" stroke-width="2.6"/>
<text x="699.6" y="1002.3" font-size="12.8" text-anchor="end" font-weight="bold" fill="#000" textLength="58.9" lengthAdjust="spacingAndGlyphs">1 CBL/SAT</text>
<text x="716" y="1002.3" font-size="12.8" text-anchor="start" font-weight="bold" fill="#000" textLength="44.8" lengthAdjust="spacingAndGlyphs">2 Blu-ray</text>
<text x="801.5" y="1002" font-size="11.4" text-anchor="middle" font-weight="bold" fill="#fff" textLength="47.7" lengthAdjust="spacingAndGlyphs">MONITOR</text>
<circle cx="678.6" cy="1048.5" r="21.9" fill="#c3c3c3" stroke="#000" stroke-width="1.9"/>
<circle cx="678.6" cy="1048.5" r="17.6" fill="#c3c3c3" stroke="#000" stroke-width="1.9"/>
<circle cx="678.6" cy="1048.5" r="12.9" fill="#c3c3c3" stroke="#000" stroke-width="1.9"/>
<circle cx="678.6" cy="1048.5" r="7.0" fill="#c3c3c3" stroke="#000" stroke-width="1.9"/>
<circle cx="738.4" cy="1048.5" r="21.55" fill="#fff" stroke="#000" stroke-width="2.5"/>
<circle cx="738.4" cy="1048.5" r="17" fill="#ffe433" stroke="#000" stroke-width="2.1"/>
<circle cx="738.4" cy="1048.5" r="12.2" fill="#ffe433" stroke="#000" stroke-width="1.5"/>
<circle cx="738.4" cy="1048.5" r="8" fill="#000"/>
<circle cx="799.4" cy="1048.5" r="20.6" fill="#fff"/>
<circle cx="799.4" cy="1048.5" r="17.2" fill="#fff" stroke="#c6c6c6" stroke-width="1.3"/>
<circle cx="799.4" cy="1048.5" r="12.9" fill="#fff" stroke="#c6c6c6" stroke-width="1.7"/>
<circle cx="799.4" cy="1048.5" r="7.1" fill="#fff" stroke="#c6c6c6" stroke-width="1.7"/>
<text x="566.7" y="1086.6" font-size="12.9" text-anchor="start" font-weight="bold" fill="#fff" >VIDEO</text>
<rect x="616.5" y="1077.5" width="22.5" height="9.4" fill="#fff"/>
<text x="627.75" y="1086.0" font-size="10.5" text-anchor="middle" font-weight="bold" fill="#000" >IN</text>
<text x="649" y="1085.8" font-size="10" text-anchor="start" font-weight="bold" fill="#fff" textLength="76.5" lengthAdjust="spacingAndGlyphs">(ASSIGNABLE)</text>
<text x="774.4" y="1086.3" font-size="11.6" text-anchor="start" font-weight="bold" fill="#fff" textLength="30.3" lengthAdjust="spacingAndGlyphs">VIDEO</text>
<rect x="808.6" y="1077.8" width="19.8" height="8.8" fill="none" stroke="#fff" stroke-width="1"/>
<text x="818.5" y="1085.3999999999999" font-size="9.5" text-anchor="middle" font-weight="bold" fill="#fff" textLength="16.8" lengthAdjust="spacingAndGlyphs">OUT</text>
<path d="M1186,988 H1364.5 Q1372.7,988 1372.7,996 V1081 Q1372.7,1089.3 1364.5,1089.3 H1186 Z" fill="#c3c3c3"/>
<path d="M1192,991.5 H1364 Q1369,991.5 1369,996.5 V1074 H1192 Z" fill="none" stroke="#fff" stroke-width="1.6"/>
<text x="1280" y="1001.9" font-size="13.5" text-anchor="middle" font-weight="bold" fill="#fff" >MONITOR</text>
<text x="1219.7" y="1016" font-size="10.6" text-anchor="middle" font-weight="bold" fill="#fff" >Y</text>
<text x="1279.7" y="1016" text-anchor="middle" font-weight="bold" fill="#fff" font-size="10.6">P<tspan font-size="7.9">B</tspan>/C<tspan font-size="7.9">B</tspan></text>
<text x="1340" y="1016" text-anchor="middle" font-weight="bold" fill="#fff" font-size="10.6">P<tspan font-size="7.9">R</tspan>/C<tspan font-size="7.9">R</tspan></text>
<circle cx="1219.7" cy="1048.5" r="20.6" fill="#fff"/>
<circle cx="1219.7" cy="1048.5" r="17.2" fill="#fff" stroke="#c6c6c6" stroke-width="1.3"/>
<circle cx="1219.7" cy="1048.5" r="12.9" fill="#fff" stroke="#c6c6c6" stroke-width="1.7"/>
<circle cx="1219.7" cy="1048.5" r="7.1" fill="#fff" stroke="#c6c6c6" stroke-width="1.7"/>
<circle cx="1279.7" cy="1048.5" r="20.6" fill="#fff"/>
<circle cx="1279.7" cy="1048.5" r="17.2" fill="#fff" stroke="#c6c6c6" stroke-width="1.3"/>
<circle cx="1279.7" cy="1048.5" r="12.9" fill="#fff" stroke="#c6c6c6" stroke-width="1.7"/>
<circle cx="1279.7" cy="1048.5" r="7.1" fill="#fff" stroke="#c6c6c6" stroke-width="1.7"/>
<circle cx="1340" cy="1048.5" r="20.6" fill="#fff"/>
<circle cx="1340" cy="1048.5" r="17.2" fill="#fff" stroke="#c6c6c6" stroke-width="1.3"/>
<circle cx="1340" cy="1048.5" r="12.9" fill="#fff" stroke="#c6c6c6" stroke-width="1.7"/>
<circle cx="1340" cy="1048.5" r="7.1" fill="#fff" stroke="#c6c6c6" stroke-width="1.7"/>
<text x="1198" y="1086.8" font-size="12.6" text-anchor="start" font-weight="bold" fill="#fff" textLength="135" lengthAdjust="spacingAndGlyphs">COMPONENT VIDEO</text>
<rect x="1340.5" y="1078" width="21" height="9.4" fill="none" stroke="#fff" stroke-width="1"/>
<text x="1351.0" y="1086.2" font-size="9.5" text-anchor="middle" font-weight="bold" fill="#fff" textLength="18" lengthAdjust="spacingAndGlyphs">OUT</text>
<rect x="832.4" y="986" width="355.80000000000007" height="103.29999999999995" rx="8" fill="#000"/>
<path d="M834.8,1076 H1185.8 V994.6 Q1185.8,988.4 1179.6,988.4 H841.0 Q834.8,988.4 834.8,994.6 Z" fill="#c3c3c3"/>
<text x="919.5" y="1001.9" font-size="13.5" text-anchor="middle" font-weight="bold" fill="#000" >1 DVD</text>
<text x="1099.5" y="1001.9" font-size="13.5" text-anchor="middle" font-weight="bold" fill="#000" >2 GAME</text>
<text x="859.2" y="1016" font-size="10.6" text-anchor="middle" font-weight="bold" fill="#000" >Y</text>
<text x="923.5" y="1016" text-anchor="middle" font-weight="bold" fill="#000" font-size="10.6">P<tspan font-size="7.9">B</tspan>/C<tspan font-size="7.9">B</tspan></text>
<text x="979.4" y="1016" text-anchor="middle" font-weight="bold" fill="#000" font-size="10.6">P<tspan font-size="7.9">R</tspan>/C<tspan font-size="7.9">R</tspan></text>
<text x="1103.5" y="1016" text-anchor="middle" font-weight="bold" fill="#000" font-size="10.6">P<tspan font-size="7.9">B</tspan>/C<tspan font-size="7.9">B</tspan></text>
<text x="1160" y="1016" text-anchor="middle" font-weight="bold" fill="#000" font-size="10.6">P<tspan font-size="7.9">R</tspan>/C<tspan font-size="7.9">R</tspan></text>
<path d="M1009.3,993 V1065.5" stroke="#000" stroke-width="1.6"/>
<circle cx="859.2" cy="1048.5" r="21.55" fill="#fff" stroke="#000" stroke-width="2.5"/>
<circle cx="859.2" cy="1048.5" r="17" fill="#5aa83f" stroke="#000" stroke-width="2.1"/>
<circle cx="859.2" cy="1048.5" r="12.2" fill="#5aa83f" stroke="#000" stroke-width="1.5"/>
<circle cx="859.2" cy="1048.5" r="8" fill="#000"/>
<circle cx="918.9" cy="1048.5" r="21.55" fill="#fff" stroke="#000" stroke-width="2.5"/>
<circle cx="918.9" cy="1048.5" r="17" fill="#0036a6" stroke="#000" stroke-width="2.1"/>
<circle cx="918.9" cy="1048.5" r="12.2" fill="#0036a6" stroke="#000" stroke-width="1.5"/>
<circle cx="918.9" cy="1048.5" r="8" fill="#000"/>
<circle cx="979.4" cy="1048.5" r="21.55" fill="#fff" stroke="#000" stroke-width="2.5"/>
<circle cx="979.4" cy="1048.5" r="17" fill="#e63323" stroke="#000" stroke-width="2.1"/>
<circle cx="979.4" cy="1048.5" r="12.2" fill="#e63323" stroke="#000" stroke-width="1.5"/>
<circle cx="979.4" cy="1048.5" r="8" fill="#000"/>
<circle cx="1040" cy="1048.5" r="21.9" fill="#c3c3c3" stroke="#000" stroke-width="1.9"/>
<circle cx="1040" cy="1048.5" r="17.6" fill="#c3c3c3" stroke="#000" stroke-width="1.9"/>
<circle cx="1040" cy="1048.5" r="12.9" fill="#c3c3c3" stroke="#000" stroke-width="1.9"/>
<circle cx="1040" cy="1048.5" r="7.0" fill="#c3c3c3" stroke="#000" stroke-width="1.9"/>
<circle cx="1099.4" cy="1048.5" r="21.9" fill="#c3c3c3" stroke="#000" stroke-width="1.9"/>
<circle cx="1099.4" cy="1048.5" r="17.6" fill="#c3c3c3" stroke="#000" stroke-width="1.9"/>
<circle cx="1099.4" cy="1048.5" r="12.9" fill="#c3c3c3" stroke="#000" stroke-width="1.9"/>
<circle cx="1099.4" cy="1048.5" r="7.0" fill="#c3c3c3" stroke="#000" stroke-width="1.9"/>
<circle cx="1160" cy="1048.5" r="21.9" fill="#c3c3c3" stroke="#000" stroke-width="1.9"/>
<circle cx="1160" cy="1048.5" r="17.6" fill="#c3c3c3" stroke="#000" stroke-width="1.9"/>
<circle cx="1160" cy="1048.5" r="12.9" fill="#c3c3c3" stroke="#000" stroke-width="1.9"/>
<circle cx="1160" cy="1048.5" r="7.0" fill="#c3c3c3" stroke="#000" stroke-width="1.9"/>
<text x="890" y="1086.8" font-size="12.6" text-anchor="start" font-weight="bold" fill="#fff" textLength="132" lengthAdjust="spacingAndGlyphs">COMPONENT VIDEO</text>
<rect x="1031.5" y="1078" width="22" height="9.4" fill="#fff"/>
<text x="1042.5" y="1086.5" font-size="10.5" text-anchor="middle" font-weight="bold" fill="#000" >IN</text>
<text x="1063.5" y="1086" font-size="10" text-anchor="start" font-weight="bold" fill="#fff" textLength="76.5" lengthAdjust="spacingAndGlyphs">(ASSIGNABLE)</text>
<rect x="1648" y="867.3" width="232.6" height="119.3" rx="8" fill="#c3c3c3"/>
<path d="M1652.5,883.5 H1877.5 V977 Q1877.5,984 1871,984 H1659 Q1652.5,984 1652.5,977 Z" fill="url(#dots)"/>
<rect x="1655.3" y="888" width="113.4" height="94.5" fill="#c3c3c3"/>
<text x="1675.4" y="879.6" font-size="13" text-anchor="start" font-weight="bold" fill="#fff" textLength="34.6" lengthAdjust="spacingAndGlyphs">HDMI</text>
<rect x="1718" y="870.2" width="21.5" height="9.6" fill="none" stroke="#fff" stroke-width="1"/>
<text x="1728.75" y="878.6" font-size="9.5" text-anchor="middle" font-weight="bold" fill="#fff" textLength="18.5" lengthAdjust="spacingAndGlyphs">OUT</text>
<text x="1780.4" y="879.6" font-size="13" text-anchor="start" font-weight="bold" fill="#fff" textLength="81" lengthAdjust="spacingAndGlyphs">4K / HDCP2.3</text>
<text x="1767" y="914.4" font-size="11" text-anchor="end" font-weight="bold" fill="#fff" textLength="47.3" lengthAdjust="spacingAndGlyphs">MONITOR1</text>
<text x="1767.5" y="925.8" font-size="11" text-anchor="end" font-weight="bold" fill="#fff" textLength="48" lengthAdjust="spacingAndGlyphs">ARC / eARC</text>
<rect x="1821.6" y="903.5" width="53.2" height="15.7" fill="#fff"/>
<text x="1872" y="914.4" font-size="11" text-anchor="end" font-weight="bold" fill="#cdcdcd" textLength="47.3" lengthAdjust="spacingAndGlyphs">MONITOR2</text>
<path d="M1674.3,942.3 H1731.3 Q1733.3,942.3 1733.3,944.3 V954.9119999999999 Q1733.3,955.9119999999999 1731.8,956.4119999999999 L1728.383,957.357 Q1727.383,957.757 1726.7830000000001,958.5569999999999 L1723.608,962.0 Q1722.808,962.8 1721.608,962.8 H1683.992 Q1682.792,962.8 1681.992,962.0 L1678.8169999999998,958.5569999999999 Q1678.2169999999999,957.757 1677.2169999999999,957.357 L1673.8,956.4119999999999 Q1672.3,955.9119999999999 1672.3,954.9119999999999 V944.3 Q1672.3,942.3 1674.3,942.3 Z" fill="#fff" stroke="#fff" stroke-width="1" stroke-linejoin="round"/>
<rect x="1680.5349999999999" y="951.6274999999999" width="44.5300000000002" height="3.894999999999982" fill="#fff" stroke="#c6c6c6" stroke-width="0.8"/>
<path d="M1776.5,941.5 H1835.9 Q1837.9,941.5 1837.9,943.5 V955.108 Q1837.9,956.108 1836.4,956.608 L1832.7502000000002,957.688 Q1831.7502000000002,958.088 1831.1502000000003,958.8879999999999 L1827.7952,962.7 Q1826.9952,963.5 1825.7952,963.5 H1786.6048 Q1785.4048,963.5 1784.6048,962.7 L1781.2497999999998,958.8879999999999 Q1780.6498,958.088 1779.6498,957.688 L1776.0,956.608 Q1774.5,956.108 1774.5,955.108 V943.5 Q1774.5,941.5 1776.5,941.5 Z" fill="#fff" stroke="#c6c6c6" stroke-width="2" stroke-linejoin="round"/>
<rect x="1783.059" y="951.51" width="46.28200000000015" height="4.180000000000064" fill="#fff" stroke="#c6c6c6" stroke-width="1.6"/>
<rect x="931.5" y="867.3" width="718.0" height="119.5" rx="8" fill="#000"/>
<path d="M933.9,882.8 H1647.1 V978.1999999999999 Q1647.1,984.4 1640.8999999999999,984.4 H940.1 Q933.9,984.4 933.9,978.1999999999999 Z" fill="#c3c3c3"/>
<text x="1167.6" y="879.7" font-size="13.5" text-anchor="start" font-weight="bold" fill="#fff" >HDMI</text>
<rect x="1210" y="871" width="21.8" height="9.4" fill="#fff"/>
<text x="1220.9" y="879.5" font-size="10.5" text-anchor="middle" font-weight="bold" fill="#000" >IN</text>
<text x="1240.8" y="879.7" font-size="13.5" text-anchor="start" font-weight="bold" fill="#fff" textLength="86" lengthAdjust="spacingAndGlyphs">4K / HDCP2.3</text>
<text x="1334.5" y="879" font-size="10.2" text-anchor="start" font-weight="bold" fill="#fff" textLength="79" lengthAdjust="spacingAndGlyphs">(ASSIGNABLE)</text>
<text x="1018.5" y="905.2" font-size="14.6" text-anchor="middle" font-weight="bold" fill="#000" >1</text>
<text x="1018.5" y="918.35" font-size="13.6" text-anchor="middle" font-weight="bold" fill="#000" >CBL/</text>
<text x="1018.5" y="931.5" font-size="13.6" text-anchor="middle" font-weight="bold" fill="#000" >SAT</text>
<text x="1119.7" y="905.2" font-size="14.6" text-anchor="middle" font-weight="bold" fill="#000" >2</text>
<text x="1119.7" y="918.35" font-size="13.6" text-anchor="middle" font-weight="bold" fill="#000" >DVD</text>
<text x="1229.6" y="905.2" font-size="14.6" text-anchor="middle" font-weight="bold" fill="#000" >3</text>
<text x="1229.6" y="918.35" font-size="13.6" text-anchor="middle" font-weight="bold" fill="#000" textLength="43" lengthAdjust="spacingAndGlyphs">Blu-ray</text>
<text x="1331.8" y="905.2" font-size="14.6" text-anchor="middle" font-weight="bold" fill="#000" >4</text>
<text x="1331.8" y="918.35" font-size="13.6" text-anchor="middle" font-weight="bold" fill="#000" >GAME</text>
<text x="1437" y="905.2" font-size="14.6" text-anchor="middle" font-weight="bold" fill="#000" >5</text>
<text x="1437" y="918.35" font-size="13.6" text-anchor="middle" font-weight="bold" fill="#000" textLength="36.5" lengthAdjust="spacingAndGlyphs">MEDIA</text>
<text x="1437" y="931.5" font-size="13.6" text-anchor="middle" font-weight="bold" fill="#000" textLength="46.6" lengthAdjust="spacingAndGlyphs">PLAYER</text>
<text x="1536" y="905.2" font-size="14.6" text-anchor="middle" font-weight="bold" fill="#000" >6</text>
<text x="1536" y="918.35" font-size="13.6" text-anchor="middle" font-weight="bold" fill="#000" >AUX2</text>
<text x="1631" y="905.2" font-size="14.6" text-anchor="middle" font-weight="bold" fill="#000" >7</text>
<text x="1631" y="918.35" font-size="13.6" text-anchor="middle" font-weight="bold" fill="#000" >CD</text>
<path d="M952.0,941.4 H1011.4000000000001 Q1013.4000000000001,941.4 1013.4000000000001,943.4 V955.5391999999999 Q1013.4000000000001,956.5391999999999 1011.9000000000001,957.0391999999999 L1008.2502000000001,958.1912 Q1007.2502000000001,958.5912 1006.6502,959.3911999999999 L1003.2952,963.4 Q1002.4952000000001,964.1999999999999 1001.2952,964.1999999999999 H962.1048000000001 Q960.9048,964.1999999999999 960.1048000000001,963.4 L956.7498,959.3911999999999 Q956.1498,958.5912 955.1498,958.1912 L951.5,957.0391999999999 Q950.0,956.5391999999999 950.0,955.5391999999999 V943.4 Q950.0,941.4 952.0,941.4 Z" fill="#c3c3c3" stroke="#000" stroke-width="2.1" stroke-linejoin="round"/>
<rect x="958.559" y="951.774" width="46.28200000000015" height="4.331999999999994" fill="#a9a9a9" stroke="#000" stroke-width="1.6800000000000002"/>
<path d="M1054.97,941.4 H1114.3700000000001 Q1116.3700000000001,941.4 1116.3700000000001,943.4 V955.5391999999999 Q1116.3700000000001,956.5391999999999 1114.8700000000001,957.0391999999999 L1111.2202000000002,958.1912 Q1110.2202000000002,958.5912 1109.6202000000003,959.3911999999999 L1106.2652,963.4 Q1105.4652,964.1999999999999 1104.2652,964.1999999999999 H1065.0748 Q1063.8748,964.1999999999999 1063.0748,963.4 L1059.7197999999999,959.3911999999999 Q1059.1198,958.5912 1058.1198,958.1912 L1054.47,957.0391999999999 Q1052.97,956.5391999999999 1052.97,955.5391999999999 V943.4 Q1052.97,941.4 1054.97,941.4 Z" fill="#fff" stroke="#000" stroke-width="2.1" stroke-linejoin="round"/>
<rect x="1061.529" y="951.774" width="46.28200000000015" height="4.331999999999994" fill="#c6c6c6" stroke="#000" stroke-width="1.6800000000000002"/>
<path d="M1157.94,941.4 H1217.3400000000001 Q1219.3400000000001,941.4 1219.3400000000001,943.4 V955.5391999999999 Q1219.3400000000001,956.5391999999999 1217.8400000000001,957.0391999999999 L1214.1902000000002,958.1912 Q1213.1902000000002,958.5912 1212.5902000000003,959.3911999999999 L1209.2352,963.4 Q1208.4352000000001,964.1999999999999 1207.2352,964.1999999999999 H1168.0448000000001 Q1166.8448,964.1999999999999 1166.0448000000001,963.4 L1162.6897999999999,959.3911999999999 Q1162.0898,958.5912 1161.0898,958.1912 L1157.44,957.0391999999999 Q1155.94,956.5391999999999 1155.94,955.5391999999999 V943.4 Q1155.94,941.4 1157.94,941.4 Z" fill="#fff" stroke="#000" stroke-width="2.1" stroke-linejoin="round"/>
<rect x="1164.499" y="951.774" width="46.28200000000015" height="4.331999999999994" fill="#c6c6c6" stroke="#000" stroke-width="1.6800000000000002"/>
<path d="M1260.91,941.4 H1320.3100000000002 Q1322.3100000000002,941.4 1322.3100000000002,943.4 V955.5391999999999 Q1322.3100000000002,956.5391999999999 1320.8100000000002,957.0391999999999 L1317.1602000000003,958.1912 Q1316.1602000000003,958.5912 1315.5602000000003,959.3911999999999 L1312.2052,963.4 Q1311.4052000000001,964.1999999999999 1310.2052,964.1999999999999 H1271.0148000000002 Q1269.8148,964.1999999999999 1269.0148000000002,963.4 L1265.6598,959.3911999999999 Q1265.0598,958.5912 1264.0598,958.1912 L1260.41,957.0391999999999 Q1258.91,956.5391999999999 1258.91,955.5391999999999 V943.4 Q1258.91,941.4 1260.91,941.4 Z" fill="#c3c3c3" stroke="#000" stroke-width="2.1" stroke-linejoin="round"/>
<rect x="1267.469" y="951.774" width="46.28200000000015" height="4.331999999999994" fill="#a9a9a9" stroke="#000" stroke-width="1.6800000000000002"/>
<path d="M1363.8799999999999,941.4 H1423.28 Q1425.28,941.4 1425.28,943.4 V955.5391999999999 Q1425.28,956.5391999999999 1423.78,957.0391999999999 L1420.1302,958.1912 Q1419.1302,958.5912 1418.5302000000001,959.3911999999999 L1415.1752,963.4 Q1414.3752,964.1999999999999 1413.1752,964.1999999999999 H1373.9848 Q1372.7848,964.1999999999999 1371.9848,963.4 L1368.6297999999997,959.3911999999999 Q1368.0297999999998,958.5912 1367.0297999999998,958.1912 L1363.3799999999999,957.0391999999999 Q1361.8799999999999,956.5391999999999 1361.8799999999999,955.5391999999999 V943.4 Q1361.8799999999999,941.4 1363.8799999999999,941.4 Z" fill="#c3c3c3" stroke="#000" stroke-width="2.1" stroke-linejoin="round"/>
<rect x="1370.4389999999999" y="951.774" width="46.28200000000015" height="4.331999999999994" fill="#a9a9a9" stroke="#000" stroke-width="1.6800000000000002"/>
<path d="M1466.8500000000001,941.4 H1526.2500000000002 Q1528.2500000000002,941.4 1528.2500000000002,943.4 V955.5391999999999 Q1528.2500000000002,956.5391999999999 1526.7500000000002,957.0391999999999 L1523.1002000000003,958.1912 Q1522.1002000000003,958.5912 1521.5002000000004,959.3911999999999 L1518.1452000000002,963.4 Q1517.3452000000002,964.1999999999999 1516.1452000000002,964.1999999999999 H1476.9548000000002 Q1475.7548000000002,964.1999999999999 1474.9548000000002,963.4 L1471.5998,959.3911999999999 Q1470.9998,958.5912 1469.9998,958.1912 L1466.3500000000001,957.0391999999999 Q1464.8500000000001,956.5391999999999 1464.8500000000001,955.5391999999999 V943.4 Q1464.8500000000001,941.4 1466.8500000000001,941.4 Z" fill="#c3c3c3" stroke="#000" stroke-width="2.1" stroke-linejoin="round"/>
<rect x="1473.409" y="951.774" width="46.28200000000015" height="4.331999999999994" fill="#a9a9a9" stroke="#000" stroke-width="1.6800000000000002"/>
<path d="M1569.82,941.4 H1629.22 Q1631.22,941.4 1631.22,943.4 V955.5391999999999 Q1631.22,956.5391999999999 1629.72,957.0391999999999 L1626.0702,958.1912 Q1625.0702,958.5912 1624.4702000000002,959.3911999999999 L1621.1152,963.4 Q1620.3152,964.1999999999999 1619.1152,964.1999999999999 H1579.9248 Q1578.7248,964.1999999999999 1577.9248,963.4 L1574.5697999999998,959.3911999999999 Q1573.9697999999999,958.5912 1572.9697999999999,958.1912 L1569.32,957.0391999999999 Q1567.82,956.5391999999999 1567.82,955.5391999999999 V943.4 Q1567.82,941.4 1569.82,941.4 Z" fill="#c3c3c3" stroke="#000" stroke-width="2.1" stroke-linejoin="round"/>
<rect x="1576.379" y="951.774" width="46.28200000000015" height="4.331999999999994" fill="#a9a9a9" stroke="#000" stroke-width="1.6800000000000002"/>
<rect x="497.5" y="1090" width="91" height="133.5" rx="8" fill="#fff" stroke="#c6c6c6" stroke-width="2"/>
<path d="M497.5,1210.5 H588.5 V1216 Q588.5,1223.5 581,1223.5 H505 Q497.5,1223.5 497.5,1216 Z" fill="#c3c3c3"/>
<text x="558.5" y="1099.5" font-size="10.6" text-anchor="middle" font-weight="bold" fill="#c6c6c6" >PHONO</text>
<circle cx="559" cy="1123.7" r="21.9" fill="#fff" stroke="#c6c6c6" stroke-width="2.1"/>
<circle cx="559" cy="1123.7" r="17.4" fill="#fff" stroke="#c6c6c6" stroke-width="2.0"/>
<circle cx="559" cy="1123.7" r="12.9" fill="#fff" stroke="#c6c6c6" stroke-width="2.1"/>
<circle cx="559" cy="1123.7" r="7.1" fill="#fff" stroke="#c6c6c6" stroke-width="2.1"/>
<circle cx="559" cy="1184" r="21.9" fill="#fff" stroke="#c6c6c6" stroke-width="2.1"/>
<circle cx="559" cy="1184" r="17.4" fill="#fff" stroke="#c6c6c6" stroke-width="2.0"/>
<circle cx="559" cy="1184" r="12.9" fill="#fff" stroke="#c6c6c6" stroke-width="2.1"/>
<circle cx="559" cy="1184" r="7.1" fill="#fff" stroke="#c6c6c6" stroke-width="2.1"/>
<rect x="510.4" y="1117.6" width="12.5" height="12.2" rx="2.3" fill="#c6c6c6"/>
<text x="516.65" y="1128.0" font-size="11.6" text-anchor="middle" font-weight="bold" fill="#fff" >L</text>
<rect x="510.4" y="1178" width="12.5" height="12.2" rx="2.3" fill="#c6c6c6"/>
<text x="516.65" y="1188.4" font-size="11.6" text-anchor="middle" font-weight="bold" fill="#fff" >R</text>
<text x="507" y="1222.4" font-size="13.1" text-anchor="start" font-weight="bold" fill="#fff" >AUDIO</text>
<rect x="558" y="1212.6" width="21.9" height="10" fill="#fff"/>
<text x="568.95" y="1221.6999999999998" font-size="11.5" text-anchor="middle" font-weight="normal" fill="#c3c3c3" >IN</text>
<text x="628" y="1107" font-size="10.6" text-anchor="middle" font-weight="bold" fill="#c6c6c6" >SIGNAL</text>
<text x="628" y="1119.3" font-size="10.6" text-anchor="middle" font-weight="bold" fill="#c6c6c6" >GND</text>
<g fill="#fff" stroke="#c6c6c6" stroke-width="2"><rect x="-6.8" y="-2.9" width="13.6" height="5.8" rx="2.9" transform="translate(612.3,1132.6) rotate(45)"/><rect x="-6.8" y="-2.9" width="13.6" height="5.8" rx="2.9" transform="translate(641.9,1132.6) rotate(-45)"/><rect x="617.9" y="1197" width="18.3" height="10" rx="2.5"/><path d="M609.6,1150 Q609.6,1131 627,1131 Q644.6,1131 644.6,1150 V1181 Q644.6,1199 627,1199 Q609.6,1199 609.6,1181 Z"/><circle cx="627" cy="1147.5" r="14"/><circle cx="627" cy="1147.5" r="11.3" stroke-width="1.6"/><circle cx="627" cy="1183" r="12.2"/><path d="M609.6,1149 H605.6 V1206.5" fill="none" stroke-width="4.4"/><path d="M609.6,1149 H605.6 V1206.5" fill="none" stroke="#fff" stroke-width="1"/><path d="M594.3,1207 H613 M598.9,1208 L594.9,1218.2 M603.2,1208 L599.2,1218.2 M607.9,1208 L603.9,1218.2" fill="none"/></g>
<path d="M886,1089.5 H1066 Q1074,1089.5 1074,1097.5 V1216 Q1074,1224.2 1066,1224.2 H886 Z" fill="#c3c3c3"/>
<path d="M889.5,1089.8 H1065.5 Q1072.5,1089.8 1072.5,1096.8 V1210 H889.5 Z" fill="url(#dots)"/>
<path d="M949.7,1146.5 V1210" stroke="#c6c6c6" stroke-width="2.4"/>
<rect x="896.5" y="1090.3" width="45" height="12.5" fill="#fff"/>
<text x="901" y="1100" font-size="11" text-anchor="start" font-weight="bold" fill="#c9c9c9" >ZONE2</text>
<path d="M919.1,1140 V1165" stroke="#c6c6c6" stroke-width="2.9"/>
<circle cx="918.9" cy="1123.4" r="22.3" fill="#fff"/>
<circle cx="918.9" cy="1123.4" r="17.8" fill="#fff" stroke="#c8c8c8" stroke-width="2"/>
<circle cx="918.9" cy="1123.4" r="12.5" fill="#fff" stroke="#c8c8c8" stroke-width="2"/>
<circle cx="918.9" cy="1123.4" r="7.4" fill="#fff" stroke="#c8c8c8" stroke-width="2"/>
<circle cx="918.9" cy="1184" r="22.3" fill="#fff"/>
<circle cx="918.9" cy="1184" r="17.8" fill="#fff" stroke="#c8c8c8" stroke-width="2"/>
<circle cx="918.9" cy="1184" r="12.5" fill="#fff" stroke="#c8c8c8" stroke-width="2"/>
<circle cx="918.9" cy="1184" r="7.4" fill="#fff" stroke="#c8c8c8" stroke-width="2"/>
<circle cx="979.4" cy="1123.4" r="22.3" fill="#fff"/>
<circle cx="979.4" cy="1123.4" r="17.8" fill="#fff" stroke="#c8c8c8" stroke-width="2"/>
<circle cx="979.4" cy="1123.4" r="12.5" fill="#fff" stroke="#c8c8c8" stroke-width="2"/>
<circle cx="979.4" cy="1123.4" r="7.4" fill="#fff" stroke="#c8c8c8" stroke-width="2"/>
<circle cx="979.4" cy="1184" r="22.3" fill="#fff"/>
<circle cx="979.4" cy="1184" r="17.8" fill="#fff" stroke="#c8c8c8" stroke-width="2"/>
<circle cx="979.4" cy="1184" r="12.5" fill="#fff" stroke="#c8c8c8" stroke-width="2"/>
<circle cx="979.4" cy="1184" r="7.4" fill="#fff" stroke="#c8c8c8" stroke-width="2"/>
<rect x="996.3" y="1148.7" width="67.8" height="10.2" fill="#fff" stroke="#c6c6c6" stroke-width="1.4"/>
<text x="1030.2" y="1157.6" font-size="10" text-anchor="middle" font-weight="bold" fill="#c6c6c6" textLength="64.5" lengthAdjust="spacingAndGlyphs">SUBWOOFER</text>
<rect x="1010" y="1117.2" width="14.4" height="13" fill="#fff"/><rect x="1010" y="1176.8" width="14.4" height="13.5" fill="#fff"/>
<text x="1017.5" y="1127.8" font-size="11" text-anchor="middle" font-weight="bold" fill="#c9c9c9" >1</text>
<text x="1017.5" y="1187.4" font-size="11" text-anchor="middle" font-weight="bold" fill="#c9c9c9" >2</text>
<text x="980.5" y="1222.6" font-size="13.5" text-anchor="middle" font-weight="bold" fill="#fff" >PRE OUT</text>
<rect x="497.5" y="1224.3" width="1144.5" height="172.5" rx="8" fill="#fff" stroke="#c6c6c6" stroke-width="2.2"/>
<path d="M497.5,1377 H1642 V1389 Q1642,1396.8 1634,1396.8 H505.5 Q497.5,1396.8 497.5,1389 Z" fill="#c3c3c3"/>
<text x="1069.5" y="1393.4" font-size="17" text-anchor="middle" font-weight="bold" fill="#fff" >SPEAKERS</text>
<rect x="504" y="1228.8" width="158.70000000000005" height="24.6" fill="#edb6a6"/>
<rect x="504" y="1254" width="155.70000000000005" height="123" fill="url(#dots)"/>
<text x="544.95" y="1247" font-size="16.6" text-anchor="start" font-weight="bold" fill="#fff" textLength="57.2" lengthAdjust="spacingAndGlyphs">FRONT</text>
<rect x="607.1500000000001" y="1234.6" width="14.6" height="13.7" rx="2.8" fill="#fff"/>
<text x="614.45" y="1246.6" font-size="13" text-anchor="middle" font-weight="bold" fill="#edb6a6" >R</text>
<rect x="662.7" y="1228.8" width="170.0999999999999" height="24.6" fill="#ffffff"/>
<rect x="665.7" y="1254" width="164.0999999999999" height="123" fill="url(#dots)"/>
<text x="709.35" y="1247" font-size="16.6" text-anchor="start" font-weight="bold" fill="#d0d0d0" textLength="57.2" lengthAdjust="spacingAndGlyphs">FRONT</text>
<rect x="771.5500000000001" y="1234.6" width="14.6" height="13.7" rx="2.8" fill="#d0d0d0"/>
<text x="778.85" y="1246.6" font-size="13" text-anchor="middle" font-weight="bold" fill="#ffffff" >L</text>
<rect x="832.8" y="1228.8" width="156.4000000000001" height="24.6" fill="#b5d2b0"/>
<rect x="835.8" y="1254" width="150.4000000000001" height="123" fill="url(#dots)"/>
<text x="907.6" y="1247.5" font-size="16.6" text-anchor="middle" font-weight="bold" fill="#fff" >CENTER</text>
<rect x="989.2" y="1228.8" width="162.5" height="24.6" fill="#c6e6f0"/>
<rect x="992.2" y="1254" width="156.5" height="123" fill="url(#dots)"/>
<text x="1012.85" y="1247" font-size="16.6" text-anchor="start" font-weight="bold" fill="#fff" textLength="95.6" lengthAdjust="spacingAndGlyphs">SURROUND</text>
<rect x="1113.45" y="1234.6" width="14.6" height="13.7" rx="2.8" fill="#fff"/>
<text x="1120.75" y="1246.6" font-size="13" text-anchor="middle" font-weight="bold" fill="#c6e6f0" >R</text>
<rect x="1151.7" y="1228.8" width="164.29999999999995" height="24.6" fill="#dff0f6"/>
<rect x="1154.7" y="1254" width="158.29999999999995" height="123" fill="url(#dots)"/>
<text x="1176.25" y="1247" font-size="16.6" text-anchor="start" font-weight="bold" fill="#c8cdd0" textLength="95.6" lengthAdjust="spacingAndGlyphs">SURROUND</text>
<rect x="1276.85" y="1234.6" width="14.6" height="13.7" rx="2.8" fill="#c8cdd0"/>
<text x="1284.1499999999999" y="1246.6" font-size="13" text-anchor="middle" font-weight="bold" fill="#dff0f6" >L</text>
<rect x="1316" y="1228.8" width="162.9000000000001" height="24.6" fill="#cfa67e"/>
<text x="1321.8" y="1247" font-size="16.6" text-anchor="start" font-weight="bold" fill="#fff" textLength="134.8" lengthAdjust="spacingAndGlyphs">SURROUND BACK</text>
<rect x="1458.2" y="1234.6" width="14.6" height="13.7" rx="2.8" fill="#fff"/>
<text x="1465.5" y="1246.6" font-size="13" text-anchor="middle" font-weight="bold" fill="#cfa67e" >R</text>
<rect x="1478.9" y="1228.8" width="157.0" height="24.6" fill="#f8e1c6"/>
<text x="1481.7" y="1247" font-size="16.6" text-anchor="start" font-weight="bold" fill="#c9c9c9" textLength="134.8" lengthAdjust="spacingAndGlyphs">SURROUND BACK</text>
<rect x="1618.1000000000001" y="1234.6" width="14.6" height="13.7" rx="2.8" fill="#c9c9c9"/>
<text x="1625.4" y="1246.6" font-size="13" text-anchor="middle" font-weight="bold" fill="#f8e1c6" >L</text>
<path d="M1478.9,1260 V1358" stroke="#c6c6c6" stroke-width="1.6"/>
<text x="1478" y="1374" font-size="9.2" text-anchor="middle" font-weight="bold" fill="#c6c6c6" textLength="62" lengthAdjust="spacingAndGlyphs">ASSIGNABLE</text>
<rect x="531.7" y="1280" width="16.6" height="89.3" rx="8.3" fill="#c3c3c3"/>
<circle cx="540.0" cy="1267" r="8.6" fill="#c3c3c3"/>
<path d="M534.0,1267 H546.0 M540.0,1261 V1273" stroke="#fff" stroke-width="2.2"/>
<rect x="613.3000000000001" y="1280" width="16.6" height="89.3" rx="8.3" fill="#c3c3c3"/>
<circle cx="621.6" cy="1267" r="8.6" fill="#c3c3c3"/>
<path d="M615.6,1267 H627.6" stroke="#fff" stroke-width="2.2"/>
<rect x="568.0" y="1317.4" width="25.599999999999994" height="14.6" fill="#fff" stroke="#c6c6c6" stroke-width="1.7"/>
<circle cx="540.0" cy="1324.6" r="30.7" fill="#fff" stroke="#c6c6c6" stroke-width="1.9"/>
<path d="M564.20,1324.60 L570.70,1324.60 M563.83,1328.80 L570.23,1329.93 M562.74,1332.88 L568.85,1335.10 M560.96,1336.70 L566.59,1339.95 M558.54,1340.16 L563.52,1344.33 M555.56,1343.14 L559.73,1348.12 M552.10,1345.56 L555.35,1351.19 M548.28,1347.34 L550.50,1353.45 M544.20,1348.43 L545.33,1354.83 M540.00,1348.80 L540.00,1355.30 M535.80,1348.43 L534.67,1354.83 M531.72,1347.34 L529.50,1353.45 M527.90,1345.56 L524.65,1351.19 M524.44,1343.14 L520.27,1348.12 M521.46,1340.16 L516.48,1344.33 M519.04,1336.70 L513.41,1339.95 M517.26,1332.88 L511.15,1335.10 M516.17,1328.80 L509.77,1329.93 M515.80,1324.60 L509.30,1324.60 M516.17,1320.40 L509.77,1319.27 M517.26,1316.32 L511.15,1314.10 M519.04,1312.50 L513.41,1309.25 M521.46,1309.04 L516.48,1304.87 M524.44,1306.06 L520.27,1301.08 M527.90,1303.64 L524.65,1298.01 M531.72,1301.86 L529.50,1295.75 M535.80,1300.77 L534.67,1294.37 M540.00,1300.40 L540.00,1293.90 M544.20,1300.77 L545.33,1294.37 M548.28,1301.86 L550.50,1295.75 M552.10,1303.64 L555.35,1298.01 M555.56,1306.06 L559.73,1301.08 M558.54,1309.04 L563.52,1304.87 M560.96,1312.50 L566.59,1309.25 M562.74,1316.32 L568.85,1314.10 M563.83,1320.40 L570.23,1319.27" stroke="#c6c6c6" stroke-width="1.7"/>
<circle cx="540.0" cy="1324.6" r="24.2" fill="#fff" stroke="#c6c6c6" stroke-width="1.9"/>
<circle cx="540.0" cy="1324.6" r="16.7" fill="#fff" stroke="#c6c6c6" stroke-width="1.7"/>
<circle cx="540.0" cy="1324.6" r="8.6" fill="#fff" stroke="#c6c6c6" stroke-width="1.7"/>
<circle cx="621.6" cy="1324.6" r="30.7" fill="#fff" stroke="#c6c6c6" stroke-width="1.9"/>
<path d="M645.80,1324.60 L652.30,1324.60 M645.43,1328.80 L651.83,1329.93 M644.34,1332.88 L650.45,1335.10 M642.56,1336.70 L648.19,1339.95 M640.14,1340.16 L645.12,1344.33 M637.16,1343.14 L641.33,1348.12 M633.70,1345.56 L636.95,1351.19 M629.88,1347.34 L632.10,1353.45 M625.80,1348.43 L626.93,1354.83 M621.60,1348.80 L621.60,1355.30 M617.40,1348.43 L616.27,1354.83 M613.32,1347.34 L611.10,1353.45 M609.50,1345.56 L606.25,1351.19 M606.04,1343.14 L601.87,1348.12 M603.06,1340.16 L598.08,1344.33 M600.64,1336.70 L595.01,1339.95 M598.86,1332.88 L592.75,1335.10 M597.77,1328.80 L591.37,1329.93 M597.40,1324.60 L590.90,1324.60 M597.77,1320.40 L591.37,1319.27 M598.86,1316.32 L592.75,1314.10 M600.64,1312.50 L595.01,1309.25 M603.06,1309.04 L598.08,1304.87 M606.04,1306.06 L601.87,1301.08 M609.50,1303.64 L606.25,1298.01 M613.32,1301.86 L611.10,1295.75 M617.40,1300.77 L616.27,1294.37 M621.60,1300.40 L621.60,1293.90 M625.80,1300.77 L626.93,1294.37 M629.88,1301.86 L632.10,1295.75 M633.70,1303.64 L636.95,1298.01 M637.16,1306.06 L641.33,1301.08 M640.14,1309.04 L645.12,1304.87 M642.56,1312.50 L648.19,1309.25 M644.34,1316.32 L650.45,1314.10 M645.43,1320.40 L651.83,1319.27" stroke="#c6c6c6" stroke-width="1.7"/>
<circle cx="621.6" cy="1324.6" r="24.2" fill="#fff" stroke="#c6c6c6" stroke-width="1.9"/>
<circle cx="621.6" cy="1324.6" r="16.7" fill="#fff" stroke="#c6c6c6" stroke-width="1.7"/>
<circle cx="621.6" cy="1324.6" r="8.6" fill="#fff" stroke="#c6c6c6" stroke-width="1.7"/>
<rect x="694.8000000000001" y="1280" width="16.6" height="89.3" rx="8.3" fill="#c3c3c3"/>
<circle cx="703.1" cy="1267" r="8.6" fill="#c3c3c3"/>
<path d="M697.1,1267 H709.1 M703.1,1261 V1273" stroke="#fff" stroke-width="2.2"/>
<rect x="776.4000000000001" y="1280" width="16.6" height="89.3" rx="8.3" fill="#c3c3c3"/>
<circle cx="784.7" cy="1267" r="8.6" fill="#c3c3c3"/>
<path d="M778.7,1267 H790.7" stroke="#fff" stroke-width="2.2"/>
<rect x="731.1" y="1317.4" width="25.599999999999994" height="14.6" fill="#fff" stroke="#c6c6c6" stroke-width="1.7"/>
<circle cx="703.1" cy="1324.6" r="30.7" fill="#fff" stroke="#c6c6c6" stroke-width="1.9"/>
<path d="M727.30,1324.60 L733.80,1324.60 M726.93,1328.80 L733.33,1329.93 M725.84,1332.88 L731.95,1335.10 M724.06,1336.70 L729.69,1339.95 M721.64,1340.16 L726.62,1344.33 M718.66,1343.14 L722.83,1348.12 M715.20,1345.56 L718.45,1351.19 M711.38,1347.34 L713.60,1353.45 M707.30,1348.43 L708.43,1354.83 M703.10,1348.80 L703.10,1355.30 M698.90,1348.43 L697.77,1354.83 M694.82,1347.34 L692.60,1353.45 M691.00,1345.56 L687.75,1351.19 M687.54,1343.14 L683.37,1348.12 M684.56,1340.16 L679.58,1344.33 M682.14,1336.70 L676.51,1339.95 M680.36,1332.88 L674.25,1335.10 M679.27,1328.80 L672.87,1329.93 M678.90,1324.60 L672.40,1324.60 M679.27,1320.40 L672.87,1319.27 M680.36,1316.32 L674.25,1314.10 M682.14,1312.50 L676.51,1309.25 M684.56,1309.04 L679.58,1304.87 M687.54,1306.06 L683.37,1301.08 M691.00,1303.64 L687.75,1298.01 M694.82,1301.86 L692.60,1295.75 M698.90,1300.77 L697.77,1294.37 M703.10,1300.40 L703.10,1293.90 M707.30,1300.77 L708.43,1294.37 M711.38,1301.86 L713.60,1295.75 M715.20,1303.64 L718.45,1298.01 M718.66,1306.06 L722.83,1301.08 M721.64,1309.04 L726.62,1304.87 M724.06,1312.50 L729.69,1309.25 M725.84,1316.32 L731.95,1314.10 M726.93,1320.40 L733.33,1319.27" stroke="#c6c6c6" stroke-width="1.7"/>
<circle cx="703.1" cy="1324.6" r="24.2" fill="#fff" stroke="#c6c6c6" stroke-width="1.9"/>
<circle cx="703.1" cy="1324.6" r="16.7" fill="#fff" stroke="#c6c6c6" stroke-width="1.7"/>
<circle cx="703.1" cy="1324.6" r="8.6" fill="#fff" stroke="#c6c6c6" stroke-width="1.7"/>
<circle cx="784.7" cy="1324.6" r="30.7" fill="#fff" stroke="#c6c6c6" stroke-width="1.9"/>
<path d="M808.90,1324.60 L815.40,1324.60 M808.53,1328.80 L814.93,1329.93 M807.44,1332.88 L813.55,1335.10 M805.66,1336.70 L811.29,1339.95 M803.24,1340.16 L808.22,1344.33 M800.26,1343.14 L804.43,1348.12 M796.80,1345.56 L800.05,1351.19 M792.98,1347.34 L795.20,1353.45 M788.90,1348.43 L790.03,1354.83 M784.70,1348.80 L784.70,1355.30 M780.50,1348.43 L779.37,1354.83 M776.42,1347.34 L774.20,1353.45 M772.60,1345.56 L769.35,1351.19 M769.14,1343.14 L764.97,1348.12 M766.16,1340.16 L761.18,1344.33 M763.74,1336.70 L758.11,1339.95 M761.96,1332.88 L755.85,1335.10 M760.87,1328.80 L754.47,1329.93 M760.50,1324.60 L754.00,1324.60 M760.87,1320.40 L754.47,1319.27 M761.96,1316.32 L755.85,1314.10 M763.74,1312.50 L758.11,1309.25 M766.16,1309.04 L761.18,1304.87 M769.14,1306.06 L764.97,1301.08 M772.60,1303.64 L769.35,1298.01 M776.42,1301.86 L774.20,1295.75 M780.50,1300.77 L779.37,1294.37 M784.70,1300.40 L784.70,1293.90 M788.90,1300.77 L790.03,1294.37 M792.98,1301.86 L795.20,1295.75 M796.80,1303.64 L800.05,1298.01 M800.26,1306.06 L804.43,1301.08 M803.24,1309.04 L808.22,1304.87 M805.66,1312.50 L811.29,1309.25 M807.44,1316.32 L813.55,1314.10 M808.53,1320.40 L814.93,1319.27" stroke="#c6c6c6" stroke-width="1.7"/>
<circle cx="784.7" cy="1324.6" r="24.2" fill="#fff" stroke="#c6c6c6" stroke-width="1.9"/>
<circle cx="784.7" cy="1324.6" r="16.7" fill="#fff" stroke="#c6c6c6" stroke-width="1.7"/>
<circle cx="784.7" cy="1324.6" r="8.6" fill="#fff" stroke="#c6c6c6" stroke-width="1.7"/>
<rect x="857.9000000000001" y="1280" width="16.6" height="89.3" rx="8.3" fill="#c3c3c3"/>
<circle cx="866.2" cy="1267" r="8.6" fill="#c3c3c3"/>
<path d="M860.2,1267 H872.2 M866.2,1261 V1273" stroke="#fff" stroke-width="2.2"/>
<rect x="939.5000000000001" y="1280" width="16.6" height="89.3" rx="8.3" fill="#c3c3c3"/>
<circle cx="947.8000000000001" cy="1267" r="8.6" fill="#c3c3c3"/>
<path d="M941.8000000000001,1267 H953.8000000000001" stroke="#fff" stroke-width="2.2"/>
<rect x="894.2" y="1317.4" width="25.599999999999994" height="14.6" fill="#fff" stroke="#c6c6c6" stroke-width="1.7"/>
<circle cx="866.2" cy="1324.6" r="30.7" fill="#fff" stroke="#c6c6c6" stroke-width="1.9"/>
<path d="M890.40,1324.60 L896.90,1324.60 M890.03,1328.80 L896.43,1329.93 M888.94,1332.88 L895.05,1335.10 M887.16,1336.70 L892.79,1339.95 M884.74,1340.16 L889.72,1344.33 M881.76,1343.14 L885.93,1348.12 M878.30,1345.56 L881.55,1351.19 M874.48,1347.34 L876.70,1353.45 M870.40,1348.43 L871.53,1354.83 M866.20,1348.80 L866.20,1355.30 M862.00,1348.43 L860.87,1354.83 M857.92,1347.34 L855.70,1353.45 M854.10,1345.56 L850.85,1351.19 M850.64,1343.14 L846.47,1348.12 M847.66,1340.16 L842.68,1344.33 M845.24,1336.70 L839.61,1339.95 M843.46,1332.88 L837.35,1335.10 M842.37,1328.80 L835.97,1329.93 M842.00,1324.60 L835.50,1324.60 M842.37,1320.40 L835.97,1319.27 M843.46,1316.32 L837.35,1314.10 M845.24,1312.50 L839.61,1309.25 M847.66,1309.04 L842.68,1304.87 M850.64,1306.06 L846.47,1301.08 M854.10,1303.64 L850.85,1298.01 M857.92,1301.86 L855.70,1295.75 M862.00,1300.77 L860.87,1294.37 M866.20,1300.40 L866.20,1293.90 M870.40,1300.77 L871.53,1294.37 M874.48,1301.86 L876.70,1295.75 M878.30,1303.64 L881.55,1298.01 M881.76,1306.06 L885.93,1301.08 M884.74,1309.04 L889.72,1304.87 M887.16,1312.50 L892.79,1309.25 M888.94,1316.32 L895.05,1314.10 M890.03,1320.40 L896.43,1319.27" stroke="#c6c6c6" stroke-width="1.7"/>
<circle cx="866.2" cy="1324.6" r="24.2" fill="#fff" stroke="#c6c6c6" stroke-width="1.9"/>
<circle cx="866.2" cy="1324.6" r="16.7" fill="#fff" stroke="#c6c6c6" stroke-width="1.7"/>
<circle cx="866.2" cy="1324.6" r="8.6" fill="#fff" stroke="#c6c6c6" stroke-width="1.7"/>
<circle cx="947.8000000000001" cy="1324.6" r="30.7" fill="#fff" stroke="#c6c6c6" stroke-width="1.9"/>
<path d="M972.00,1324.60 L978.50,1324.60 M971.63,1328.80 L978.03,1329.93 M970.54,1332.88 L976.65,1335.10 M968.76,1336.70 L974.39,1339.95 M966.34,1340.16 L971.32,1344.33 M963.36,1343.14 L967.53,1348.12 M959.90,1345.56 L963.15,1351.19 M956.08,1347.34 L958.30,1353.45 M952.00,1348.43 L953.13,1354.83 M947.80,1348.80 L947.80,1355.30 M943.60,1348.43 L942.47,1354.83 M939.52,1347.34 L937.30,1353.45 M935.70,1345.56 L932.45,1351.19 M932.24,1343.14 L928.07,1348.12 M929.26,1340.16 L924.28,1344.33 M926.84,1336.70 L921.21,1339.95 M925.06,1332.88 L918.95,1335.10 M923.97,1328.80 L917.57,1329.93 M923.60,1324.60 L917.10,1324.60 M923.97,1320.40 L917.57,1319.27 M925.06,1316.32 L918.95,1314.10 M926.84,1312.50 L921.21,1309.25 M929.26,1309.04 L924.28,1304.87 M932.24,1306.06 L928.07,1301.08 M935.70,1303.64 L932.45,1298.01 M939.52,1301.86 L937.30,1295.75 M943.60,1300.77 L942.47,1294.37 M947.80,1300.40 L947.80,1293.90 M952.00,1300.77 L953.13,1294.37 M956.08,1301.86 L958.30,1295.75 M959.90,1303.64 L963.15,1298.01 M963.36,1306.06 L967.53,1301.08 M966.34,1309.04 L971.32,1304.87 M968.76,1312.50 L974.39,1309.25 M970.54,1316.32 L976.65,1314.10 M971.63,1320.40 L978.03,1319.27" stroke="#c6c6c6" stroke-width="1.7"/>
<circle cx="947.8000000000001" cy="1324.6" r="24.2" fill="#fff" stroke="#c6c6c6" stroke-width="1.9"/>
<circle cx="947.8000000000001" cy="1324.6" r="16.7" fill="#fff" stroke="#c6c6c6" stroke-width="1.7"/>
<circle cx="947.8000000000001" cy="1324.6" r="8.6" fill="#fff" stroke="#c6c6c6" stroke-width="1.7"/>
<rect x="1021.0" y="1280" width="16.6" height="89.3" rx="8.3" fill="#c3c3c3"/>
<circle cx="1029.3" cy="1267" r="8.6" fill="#c3c3c3"/>
<path d="M1023.3,1267 H1035.3 M1029.3,1261 V1273" stroke="#fff" stroke-width="2.2"/>
<rect x="1102.6" y="1280" width="16.6" height="89.3" rx="8.3" fill="#c3c3c3"/>
<circle cx="1110.8999999999999" cy="1267" r="8.6" fill="#c3c3c3"/>
<path d="M1104.8999999999999,1267 H1116.8999999999999" stroke="#fff" stroke-width="2.2"/>
<rect x="1057.3" y="1317.4" width="25.599999999999994" height="14.6" fill="#fff" stroke="#c6c6c6" stroke-width="1.7"/>
<circle cx="1029.3" cy="1324.6" r="30.7" fill="#fff" stroke="#c6c6c6" stroke-width="1.9"/>
<path d="M1053.50,1324.60 L1060.00,1324.60 M1053.13,1328.80 L1059.53,1329.93 M1052.04,1332.88 L1058.15,1335.10 M1050.26,1336.70 L1055.89,1339.95 M1047.84,1340.16 L1052.82,1344.33 M1044.86,1343.14 L1049.03,1348.12 M1041.40,1345.56 L1044.65,1351.19 M1037.58,1347.34 L1039.80,1353.45 M1033.50,1348.43 L1034.63,1354.83 M1029.30,1348.80 L1029.30,1355.30 M1025.10,1348.43 L1023.97,1354.83 M1021.02,1347.34 L1018.80,1353.45 M1017.20,1345.56 L1013.95,1351.19 M1013.74,1343.14 L1009.57,1348.12 M1010.76,1340.16 L1005.78,1344.33 M1008.34,1336.70 L1002.71,1339.95 M1006.56,1332.88 L1000.45,1335.10 M1005.47,1328.80 L999.07,1329.93 M1005.10,1324.60 L998.60,1324.60 M1005.47,1320.40 L999.07,1319.27 M1006.56,1316.32 L1000.45,1314.10 M1008.34,1312.50 L1002.71,1309.25 M1010.76,1309.04 L1005.78,1304.87 M1013.74,1306.06 L1009.57,1301.08 M1017.20,1303.64 L1013.95,1298.01 M1021.02,1301.86 L1018.80,1295.75 M1025.10,1300.77 L1023.97,1294.37 M1029.30,1300.40 L1029.30,1293.90 M1033.50,1300.77 L1034.63,1294.37 M1037.58,1301.86 L1039.80,1295.75 M1041.40,1303.64 L1044.65,1298.01 M1044.86,1306.06 L1049.03,1301.08 M1047.84,1309.04 L1052.82,1304.87 M1050.26,1312.50 L1055.89,1309.25 M1052.04,1316.32 L1058.15,1314.10 M1053.13,1320.40 L1059.53,1319.27" stroke="#c6c6c6" stroke-width="1.7"/>
<circle cx="1029.3" cy="1324.6" r="24.2" fill="#fff" stroke="#c6c6c6" stroke-width="1.9"/>
<circle cx="1029.3" cy="1324.6" r="16.7" fill="#fff" stroke="#c6c6c6" stroke-width="1.7"/>
<circle cx="1029.3" cy="1324.6" r="8.6" fill="#fff" stroke="#c6c6c6" stroke-width="1.7"/>
<circle cx="1110.8999999999999" cy="1324.6" r="30.7" fill="#fff" stroke="#c6c6c6" stroke-width="1.9"/>
<path d="M1135.10,1324.60 L1141.60,1324.60 M1134.73,1328.80 L1141.13,1329.93 M1133.64,1332.88 L1139.75,1335.10 M1131.86,1336.70 L1137.49,1339.95 M1129.44,1340.16 L1134.42,1344.33 M1126.46,1343.14 L1130.63,1348.12 M1123.00,1345.56 L1126.25,1351.19 M1119.18,1347.34 L1121.40,1353.45 M1115.10,1348.43 L1116.23,1354.83 M1110.90,1348.80 L1110.90,1355.30 M1106.70,1348.43 L1105.57,1354.83 M1102.62,1347.34 L1100.40,1353.45 M1098.80,1345.56 L1095.55,1351.19 M1095.34,1343.14 L1091.17,1348.12 M1092.36,1340.16 L1087.38,1344.33 M1089.94,1336.70 L1084.31,1339.95 M1088.16,1332.88 L1082.05,1335.10 M1087.07,1328.80 L1080.67,1329.93 M1086.70,1324.60 L1080.20,1324.60 M1087.07,1320.40 L1080.67,1319.27 M1088.16,1316.32 L1082.05,1314.10 M1089.94,1312.50 L1084.31,1309.25 M1092.36,1309.04 L1087.38,1304.87 M1095.34,1306.06 L1091.17,1301.08 M1098.80,1303.64 L1095.55,1298.01 M1102.62,1301.86 L1100.40,1295.75 M1106.70,1300.77 L1105.57,1294.37 M1110.90,1300.40 L1110.90,1293.90 M1115.10,1300.77 L1116.23,1294.37 M1119.18,1301.86 L1121.40,1295.75 M1123.00,1303.64 L1126.25,1298.01 M1126.46,1306.06 L1130.63,1301.08 M1129.44,1309.04 L1134.42,1304.87 M1131.86,1312.50 L1137.49,1309.25 M1133.64,1316.32 L1139.75,1314.10 M1134.73,1320.40 L1141.13,1319.27" stroke="#c6c6c6" stroke-width="1.7"/>
<circle cx="1110.8999999999999" cy="1324.6" r="24.2" fill="#fff" stroke="#c6c6c6" stroke-width="1.9"/>
<circle cx="1110.8999999999999" cy="1324.6" r="16.7" fill="#fff" stroke="#c6c6c6" stroke-width="1.7"/>
<circle cx="1110.8999999999999" cy="1324.6" r="8.6" fill="#fff" stroke="#c6c6c6" stroke-width="1.7"/>
<rect x="1184.1000000000001" y="1280" width="16.6" height="89.3" rx="8.3" fill="#c3c3c3"/>
<circle cx="1192.4" cy="1267" r="8.6" fill="#c3c3c3"/>
<path d="M1186.4,1267 H1198.4 M1192.4,1261 V1273" stroke="#fff" stroke-width="2.2"/>
<rect x="1265.7" y="1280" width="16.6" height="89.3" rx="8.3" fill="#c3c3c3"/>
<circle cx="1274.0" cy="1267" r="8.6" fill="#c3c3c3"/>
<path d="M1268.0,1267 H1280.0" stroke="#fff" stroke-width="2.2"/>
<rect x="1220.4" y="1317.4" width="25.599999999999994" height="14.6" fill="#fff" stroke="#c6c6c6" stroke-width="1.7"/>
<circle cx="1192.4" cy="1324.6" r="30.7" fill="#fff" stroke="#c6c6c6" stroke-width="1.9"/>
<path d="M1216.60,1324.60 L1223.10,1324.60 M1216.23,1328.80 L1222.63,1329.93 M1215.14,1332.88 L1221.25,1335.10 M1213.36,1336.70 L1218.99,1339.95 M1210.94,1340.16 L1215.92,1344.33 M1207.96,1343.14 L1212.13,1348.12 M1204.50,1345.56 L1207.75,1351.19 M1200.68,1347.34 L1202.90,1353.45 M1196.60,1348.43 L1197.73,1354.83 M1192.40,1348.80 L1192.40,1355.30 M1188.20,1348.43 L1187.07,1354.83 M1184.12,1347.34 L1181.90,1353.45 M1180.30,1345.56 L1177.05,1351.19 M1176.84,1343.14 L1172.67,1348.12 M1173.86,1340.16 L1168.88,1344.33 M1171.44,1336.70 L1165.81,1339.95 M1169.66,1332.88 L1163.55,1335.10 M1168.57,1328.80 L1162.17,1329.93 M1168.20,1324.60 L1161.70,1324.60 M1168.57,1320.40 L1162.17,1319.27 M1169.66,1316.32 L1163.55,1314.10 M1171.44,1312.50 L1165.81,1309.25 M1173.86,1309.04 L1168.88,1304.87 M1176.84,1306.06 L1172.67,1301.08 M1180.30,1303.64 L1177.05,1298.01 M1184.12,1301.86 L1181.90,1295.75 M1188.20,1300.77 L1187.07,1294.37 M1192.40,1300.40 L1192.40,1293.90 M1196.60,1300.77 L1197.73,1294.37 M1200.68,1301.86 L1202.90,1295.75 M1204.50,1303.64 L1207.75,1298.01 M1207.96,1306.06 L1212.13,1301.08 M1210.94,1309.04 L1215.92,1304.87 M1213.36,1312.50 L1218.99,1309.25 M1215.14,1316.32 L1221.25,1314.10 M1216.23,1320.40 L1222.63,1319.27" stroke="#c6c6c6" stroke-width="1.7"/>
<circle cx="1192.4" cy="1324.6" r="24.2" fill="#fff" stroke="#c6c6c6" stroke-width="1.9"/>
<circle cx="1192.4" cy="1324.6" r="16.7" fill="#fff" stroke="#c6c6c6" stroke-width="1.7"/>
<circle cx="1192.4" cy="1324.6" r="8.6" fill="#fff" stroke="#c6c6c6" stroke-width="1.7"/>
<circle cx="1274.0" cy="1324.6" r="30.7" fill="#fff" stroke="#c6c6c6" stroke-width="1.9"/>
<path d="M1298.20,1324.60 L1304.70,1324.60 M1297.83,1328.80 L1304.23,1329.93 M1296.74,1332.88 L1302.85,1335.10 M1294.96,1336.70 L1300.59,1339.95 M1292.54,1340.16 L1297.52,1344.33 M1289.56,1343.14 L1293.73,1348.12 M1286.10,1345.56 L1289.35,1351.19 M1282.28,1347.34 L1284.50,1353.45 M1278.20,1348.43 L1279.33,1354.83 M1274.00,1348.80 L1274.00,1355.30 M1269.80,1348.43 L1268.67,1354.83 M1265.72,1347.34 L1263.50,1353.45 M1261.90,1345.56 L1258.65,1351.19 M1258.44,1343.14 L1254.27,1348.12 M1255.46,1340.16 L1250.48,1344.33 M1253.04,1336.70 L1247.41,1339.95 M1251.26,1332.88 L1245.15,1335.10 M1250.17,1328.80 L1243.77,1329.93 M1249.80,1324.60 L1243.30,1324.60 M1250.17,1320.40 L1243.77,1319.27 M1251.26,1316.32 L1245.15,1314.10 M1253.04,1312.50 L1247.41,1309.25 M1255.46,1309.04 L1250.48,1304.87 M1258.44,1306.06 L1254.27,1301.08 M1261.90,1303.64 L1258.65,1298.01 M1265.72,1301.86 L1263.50,1295.75 M1269.80,1300.77 L1268.67,1294.37 M1274.00,1300.40 L1274.00,1293.90 M1278.20,1300.77 L1279.33,1294.37 M1282.28,1301.86 L1284.50,1295.75 M1286.10,1303.64 L1289.35,1298.01 M1289.56,1306.06 L1293.73,1301.08 M1292.54,1309.04 L1297.52,1304.87 M1294.96,1312.50 L1300.59,1309.25 M1296.74,1316.32 L1302.85,1314.10 M1297.83,1320.40 L1304.23,1319.27" stroke="#c6c6c6" stroke-width="1.7"/>
<circle cx="1274.0" cy="1324.6" r="24.2" fill="#fff" stroke="#c6c6c6" stroke-width="1.9"/>
<circle cx="1274.0" cy="1324.6" r="16.7" fill="#fff" stroke="#c6c6c6" stroke-width="1.7"/>
<circle cx="1274.0" cy="1324.6" r="8.6" fill="#fff" stroke="#c6c6c6" stroke-width="1.7"/>
<rect x="1347.2" y="1280" width="16.6" height="89.3" rx="8.3" fill="#c3c3c3"/>
<circle cx="1355.5" cy="1267" r="8.6" fill="#c3c3c3"/>
<path d="M1349.5,1267 H1361.5 M1355.5,1261 V1273" stroke="#fff" stroke-width="2.2"/>
<rect x="1428.8" y="1280" width="16.6" height="89.3" rx="8.3" fill="#c3c3c3"/>
<circle cx="1437.1" cy="1267" r="8.6" fill="#c3c3c3"/>
<path d="M1431.1,1267 H1443.1" stroke="#fff" stroke-width="2.2"/>
<rect x="1383.5" y="1317.4" width="25.599999999999994" height="14.6" fill="#fff" stroke="#c6c6c6" stroke-width="1.7"/>
<circle cx="1355.5" cy="1324.6" r="30.7" fill="#fff" stroke="#c6c6c6" stroke-width="1.9"/>
<path d="M1379.70,1324.60 L1386.20,1324.60 M1379.33,1328.80 L1385.73,1329.93 M1378.24,1332.88 L1384.35,1335.10 M1376.46,1336.70 L1382.09,1339.95 M1374.04,1340.16 L1379.02,1344.33 M1371.06,1343.14 L1375.23,1348.12 M1367.60,1345.56 L1370.85,1351.19 M1363.78,1347.34 L1366.00,1353.45 M1359.70,1348.43 L1360.83,1354.83 M1355.50,1348.80 L1355.50,1355.30 M1351.30,1348.43 L1350.17,1354.83 M1347.22,1347.34 L1345.00,1353.45 M1343.40,1345.56 L1340.15,1351.19 M1339.94,1343.14 L1335.77,1348.12 M1336.96,1340.16 L1331.98,1344.33 M1334.54,1336.70 L1328.91,1339.95 M1332.76,1332.88 L1326.65,1335.10 M1331.67,1328.80 L1325.27,1329.93 M1331.30,1324.60 L1324.80,1324.60 M1331.67,1320.40 L1325.27,1319.27 M1332.76,1316.32 L1326.65,1314.10 M1334.54,1312.50 L1328.91,1309.25 M1336.96,1309.04 L1331.98,1304.87 M1339.94,1306.06 L1335.77,1301.08 M1343.40,1303.64 L1340.15,1298.01 M1347.22,1301.86 L1345.00,1295.75 M1351.30,1300.77 L1350.17,1294.37 M1355.50,1300.40 L1355.50,1293.90 M1359.70,1300.77 L1360.83,1294.37 M1363.78,1301.86 L1366.00,1295.75 M1367.60,1303.64 L1370.85,1298.01 M1371.06,1306.06 L1375.23,1301.08 M1374.04,1309.04 L1379.02,1304.87 M1376.46,1312.50 L1382.09,1309.25 M1378.24,1316.32 L1384.35,1314.10 M1379.33,1320.40 L1385.73,1319.27" stroke="#c6c6c6" stroke-width="1.7"/>
<circle cx="1355.5" cy="1324.6" r="24.2" fill="#fff" stroke="#c6c6c6" stroke-width="1.9"/>
<circle cx="1355.5" cy="1324.6" r="16.7" fill="#fff" stroke="#c6c6c6" stroke-width="1.7"/>
<circle cx="1355.5" cy="1324.6" r="8.6" fill="#fff" stroke="#c6c6c6" stroke-width="1.7"/>
<circle cx="1437.1" cy="1324.6" r="30.7" fill="#fff" stroke="#c6c6c6" stroke-width="1.9"/>
<path d="M1461.30,1324.60 L1467.80,1324.60 M1460.93,1328.80 L1467.33,1329.93 M1459.84,1332.88 L1465.95,1335.10 M1458.06,1336.70 L1463.69,1339.95 M1455.64,1340.16 L1460.62,1344.33 M1452.66,1343.14 L1456.83,1348.12 M1449.20,1345.56 L1452.45,1351.19 M1445.38,1347.34 L1447.60,1353.45 M1441.30,1348.43 L1442.43,1354.83 M1437.10,1348.80 L1437.10,1355.30 M1432.90,1348.43 L1431.77,1354.83 M1428.82,1347.34 L1426.60,1353.45 M1425.00,1345.56 L1421.75,1351.19 M1421.54,1343.14 L1417.37,1348.12 M1418.56,1340.16 L1413.58,1344.33 M1416.14,1336.70 L1410.51,1339.95 M1414.36,1332.88 L1408.25,1335.10 M1413.27,1328.80 L1406.87,1329.93 M1412.90,1324.60 L1406.40,1324.60 M1413.27,1320.40 L1406.87,1319.27 M1414.36,1316.32 L1408.25,1314.10 M1416.14,1312.50 L1410.51,1309.25 M1418.56,1309.04 L1413.58,1304.87 M1421.54,1306.06 L1417.37,1301.08 M1425.00,1303.64 L1421.75,1298.01 M1428.82,1301.86 L1426.60,1295.75 M1432.90,1300.77 L1431.77,1294.37 M1437.10,1300.40 L1437.10,1293.90 M1441.30,1300.77 L1442.43,1294.37 M1445.38,1301.86 L1447.60,1295.75 M1449.20,1303.64 L1452.45,1298.01 M1452.66,1306.06 L1456.83,1301.08 M1455.64,1309.04 L1460.62,1304.87 M1458.06,1312.50 L1463.69,1309.25 M1459.84,1316.32 L1465.95,1314.10 M1460.93,1320.40 L1467.33,1319.27" stroke="#c6c6c6" stroke-width="1.7"/>
<circle cx="1437.1" cy="1324.6" r="24.2" fill="#fff" stroke="#c6c6c6" stroke-width="1.9"/>
<circle cx="1437.1" cy="1324.6" r="16.7" fill="#fff" stroke="#c6c6c6" stroke-width="1.7"/>
<circle cx="1437.1" cy="1324.6" r="8.6" fill="#fff" stroke="#c6c6c6" stroke-width="1.7"/>
<rect x="1510.3" y="1280" width="16.6" height="89.3" rx="8.3" fill="#c3c3c3"/>
<circle cx="1518.6" cy="1267" r="8.6" fill="#c3c3c3"/>
<path d="M1512.6,1267 H1524.6 M1518.6,1261 V1273" stroke="#fff" stroke-width="2.2"/>
<rect x="1591.8999999999999" y="1280" width="16.6" height="89.3" rx="8.3" fill="#c3c3c3"/>
<circle cx="1600.1999999999998" cy="1267" r="8.6" fill="#c3c3c3"/>
<path d="M1594.1999999999998,1267 H1606.1999999999998" stroke="#fff" stroke-width="2.2"/>
<rect x="1546.6" y="1317.4" width="25.599999999999994" height="14.6" fill="#fff" stroke="#c6c6c6" stroke-width="1.7"/>
<circle cx="1518.6" cy="1324.6" r="30.7" fill="#fff" stroke="#c6c6c6" stroke-width="1.9"/>
<path d="M1542.80,1324.60 L1549.30,1324.60 M1542.43,1328.80 L1548.83,1329.93 M1541.34,1332.88 L1547.45,1335.10 M1539.56,1336.70 L1545.19,1339.95 M1537.14,1340.16 L1542.12,1344.33 M1534.16,1343.14 L1538.33,1348.12 M1530.70,1345.56 L1533.95,1351.19 M1526.88,1347.34 L1529.10,1353.45 M1522.80,1348.43 L1523.93,1354.83 M1518.60,1348.80 L1518.60,1355.30 M1514.40,1348.43 L1513.27,1354.83 M1510.32,1347.34 L1508.10,1353.45 M1506.50,1345.56 L1503.25,1351.19 M1503.04,1343.14 L1498.87,1348.12 M1500.06,1340.16 L1495.08,1344.33 M1497.64,1336.70 L1492.01,1339.95 M1495.86,1332.88 L1489.75,1335.10 M1494.77,1328.80 L1488.37,1329.93 M1494.40,1324.60 L1487.90,1324.60 M1494.77,1320.40 L1488.37,1319.27 M1495.86,1316.32 L1489.75,1314.10 M1497.64,1312.50 L1492.01,1309.25 M1500.06,1309.04 L1495.08,1304.87 M1503.04,1306.06 L1498.87,1301.08 M1506.50,1303.64 L1503.25,1298.01 M1510.32,1301.86 L1508.10,1295.75 M1514.40,1300.77 L1513.27,1294.37 M1518.60,1300.40 L1518.60,1293.90 M1522.80,1300.77 L1523.93,1294.37 M1526.88,1301.86 L1529.10,1295.75 M1530.70,1303.64 L1533.95,1298.01 M1534.16,1306.06 L1538.33,1301.08 M1537.14,1309.04 L1542.12,1304.87 M1539.56,1312.50 L1545.19,1309.25 M1541.34,1316.32 L1547.45,1314.10 M1542.43,1320.40 L1548.83,1319.27" stroke="#c6c6c6" stroke-width="1.7"/>
<circle cx="1518.6" cy="1324.6" r="24.2" fill="#fff" stroke="#c6c6c6" stroke-width="1.9"/>
<circle cx="1518.6" cy="1324.6" r="16.7" fill="#fff" stroke="#c6c6c6" stroke-width="1.7"/>
<circle cx="1518.6" cy="1324.6" r="8.6" fill="#fff" stroke="#c6c6c6" stroke-width="1.7"/>
<circle cx="1600.1999999999998" cy="1324.6" r="30.7" fill="#fff" stroke="#c6c6c6" stroke-width="1.9"/>
<path d="M1624.40,1324.60 L1630.90,1324.60 M1624.03,1328.80 L1630.43,1329.93 M1622.94,1332.88 L1629.05,1335.10 M1621.16,1336.70 L1626.79,1339.95 M1618.74,1340.16 L1623.72,1344.33 M1615.76,1343.14 L1619.93,1348.12 M1612.30,1345.56 L1615.55,1351.19 M1608.48,1347.34 L1610.70,1353.45 M1604.40,1348.43 L1605.53,1354.83 M1600.20,1348.80 L1600.20,1355.30 M1596.00,1348.43 L1594.87,1354.83 M1591.92,1347.34 L1589.70,1353.45 M1588.10,1345.56 L1584.85,1351.19 M1584.64,1343.14 L1580.47,1348.12 M1581.66,1340.16 L1576.68,1344.33 M1579.24,1336.70 L1573.61,1339.95 M1577.46,1332.88 L1571.35,1335.10 M1576.37,1328.80 L1569.97,1329.93 M1576.00,1324.60 L1569.50,1324.60 M1576.37,1320.40 L1569.97,1319.27 M1577.46,1316.32 L1571.35,1314.10 M1579.24,1312.50 L1573.61,1309.25 M1581.66,1309.04 L1576.68,1304.87 M1584.64,1306.06 L1580.47,1301.08 M1588.10,1303.64 L1584.85,1298.01 M1591.92,1301.86 L1589.70,1295.75 M1596.00,1300.77 L1594.87,1294.37 M1600.20,1300.40 L1600.20,1293.90 M1604.40,1300.77 L1605.53,1294.37 M1608.48,1301.86 L1610.70,1295.75 M1612.30,1303.64 L1615.55,1298.01 M1615.76,1306.06 L1619.93,1301.08 M1618.74,1309.04 L1623.72,1304.87 M1621.16,1312.50 L1626.79,1309.25 M1622.94,1316.32 L1629.05,1314.10 M1624.03,1320.40 L1630.43,1319.27" stroke="#c6c6c6" stroke-width="1.7"/>
<circle cx="1600.1999999999998" cy="1324.6" r="24.2" fill="#fff" stroke="#c6c6c6" stroke-width="1.9"/>
<circle cx="1600.1999999999998" cy="1324.6" r="16.7" fill="#fff" stroke="#c6c6c6" stroke-width="1.7"/>
<circle cx="1600.1999999999998" cy="1324.6" r="8.6" fill="#fff" stroke="#c6c6c6" stroke-width="1.7"/>
<rect x="652.7" y="1089.3" width="236.69999999999993" height="135.9000000000001" rx="8" fill="#000"/>
<path d="M655.1,1210.6 H887.0 V1097.9 Q887.0,1091.7 880.8,1091.7 H661.3000000000001 Q655.1,1091.7 655.1,1097.9 Z" fill="#c3c3c3"/>
<text x="659.2" y="1098.8" font-size="10.2" text-anchor="start" font-weight="bold" fill="#000" textLength="55.8" lengthAdjust="spacingAndGlyphs">1 CBL/SAT</text>
<text x="722.9" y="1098.8" font-size="10.2" text-anchor="start" font-weight="bold" fill="#000" textLength="31.7" lengthAdjust="spacingAndGlyphs">2 DVD</text>
<text x="775.7" y="1098.8" font-size="10.2" text-anchor="start" font-weight="bold" fill="#000" textLength="46" lengthAdjust="spacingAndGlyphs">3 Blu-ray</text>
<text x="846.4" y="1098.8" font-size="10.2" text-anchor="start" font-weight="bold" fill="#000" textLength="24.3" lengthAdjust="spacingAndGlyphs">4 CD</text>
<path d="M678.6,1140 V1168" stroke="#000" stroke-width="4.2"/>
<circle cx="678.6" cy="1123.7" r="21.9" fill="#c3c3c3" stroke="#000" stroke-width="1.9"/>
<circle cx="678.6" cy="1123.7" r="17.6" fill="#c3c3c3" stroke="#000" stroke-width="1.9"/>
<circle cx="678.6" cy="1123.7" r="12.9" fill="#c3c3c3" stroke="#000" stroke-width="1.9"/>
<circle cx="678.6" cy="1123.7" r="7.0" fill="#c3c3c3" stroke="#000" stroke-width="1.9"/>
<circle cx="678.6" cy="1184" r="21.9" fill="#c3c3c3" stroke="#000" stroke-width="1.9"/>
<circle cx="678.6" cy="1184" r="17.6" fill="#c3c3c3" stroke="#000" stroke-width="1.9"/>
<circle cx="678.6" cy="1184" r="12.9" fill="#c3c3c3" stroke="#000" stroke-width="1.9"/>
<circle cx="678.6" cy="1184" r="7.0" fill="#c3c3c3" stroke="#000" stroke-width="1.9"/>
<path d="M738.4,1140 V1168" stroke="#000" stroke-width="4.2"/>
<circle cx="738.4" cy="1123.7" r="21.55" fill="#fff" stroke="#000" stroke-width="2.5"/>
<circle cx="738.4" cy="1123.7" r="17" fill="#fff" stroke="#000" stroke-width="2.1"/>
<circle cx="738.4" cy="1123.7" r="12.2" fill="#fff" stroke="#000" stroke-width="1.5"/>
<circle cx="738.4" cy="1123.7" r="8" fill="#000"/>
<circle cx="738.4" cy="1184" r="21.55" fill="#fff" stroke="#000" stroke-width="2.5"/>
<circle cx="738.4" cy="1184" r="17" fill="#e63323" stroke="#000" stroke-width="2.1"/>
<circle cx="738.4" cy="1184" r="12.2" fill="#e63323" stroke="#000" stroke-width="1.5"/>
<circle cx="738.4" cy="1184" r="8" fill="#000"/>
<path d="M798.5,1140 V1168" stroke="#000" stroke-width="4.2"/>
<circle cx="798.5" cy="1123.7" r="21.55" fill="#fff" stroke="#000" stroke-width="2.5"/>
<circle cx="798.5" cy="1123.7" r="17" fill="#fff" stroke="#000" stroke-width="2.1"/>
<circle cx="798.5" cy="1123.7" r="12.2" fill="#fff" stroke="#000" stroke-width="1.5"/>
<circle cx="798.5" cy="1123.7" r="8" fill="#000"/>
<circle cx="798.5" cy="1184" r="21.55" fill="#fff" stroke="#000" stroke-width="2.5"/>
<circle cx="798.5" cy="1184" r="17" fill="#e63323" stroke="#000" stroke-width="2.1"/>
<circle cx="798.5" cy="1184" r="12.2" fill="#e63323" stroke="#000" stroke-width="1.5"/>
<circle cx="798.5" cy="1184" r="8" fill="#000"/>
<path d="M858.5,1140 V1168" stroke="#000" stroke-width="4.2"/>
<circle cx="858.5" cy="1123.7" r="21.9" fill="#c3c3c3" stroke="#000" stroke-width="1.9"/>
<circle cx="858.5" cy="1123.7" r="17.6" fill="#c3c3c3" stroke="#000" stroke-width="1.9"/>
<circle cx="858.5" cy="1123.7" r="12.9" fill="#c3c3c3" stroke="#000" stroke-width="1.9"/>
<circle cx="858.5" cy="1123.7" r="7.0" fill="#c3c3c3" stroke="#000" stroke-width="1.9"/>
<circle cx="858.5" cy="1184" r="21.9" fill="#c3c3c3" stroke="#000" stroke-width="1.9"/>
<circle cx="858.5" cy="1184" r="17.6" fill="#c3c3c3" stroke="#000" stroke-width="1.9"/>
<circle cx="858.5" cy="1184" r="12.9" fill="#c3c3c3" stroke="#000" stroke-width="1.9"/>
<circle cx="858.5" cy="1184" r="7.0" fill="#c3c3c3" stroke="#000" stroke-width="1.9"/>
<text x="693.6" y="1222.4" font-size="13.1" text-anchor="start" font-weight="bold" fill="#fff" >AUDIO</text>
<rect x="744" y="1213.2" width="21.6" height="9.4" fill="#fff"/>
<text x="754.8" y="1221.7" font-size="10.5" text-anchor="middle" font-weight="bold" fill="#000" >IN</text>
<text x="772.4" y="1221.6" font-size="10.2" text-anchor="start" font-weight="bold" fill="#fff" textLength="78.8" lengthAdjust="spacingAndGlyphs">(ASSIGNABLE)</text>
<rect x="298.8" y="1240.5" width="9" height="26" fill="#fff"/>
<path d="M181,730.8 V765 H246 V730.8" fill="none" stroke="#000" stroke-width="12.5" stroke-linecap="round" stroke-linejoin="round"/>
<path d="M210.3,765 V1253.6 H828.4 V1123.7 H798.5" fill="none" stroke="#000" stroke-width="12.5" stroke-linecap="round" stroke-linejoin="round"/>
<path d="M828.4,1184 H798.5" fill="none" stroke="#000" stroke-width="12.5" stroke-linecap="round" stroke-linejoin="round"/>
<rect x="434.8" y="793.8" width="26" height="9" fill="#fff"/>
<path d="M447.8,728.8 V894.4 H708.5 V1048.4 H738.4" fill="none" stroke="#000" stroke-width="12.5" stroke-linecap="round" stroke-linejoin="round"/>
<rect x="755.4" y="793.8" width="26" height="9" fill="#fff"/>
<path d="M735,730.8 V765 H801 V730.8" fill="none" stroke="#000" stroke-width="12.5" stroke-linecap="round" stroke-linejoin="round"/>
<path d="M768.4,765 V1184 H738.4" fill="none" stroke="#000" stroke-width="12.5" stroke-linecap="round" stroke-linejoin="round"/>
<path d="M768.4,1123.7 H738.4" fill="none" stroke="#000" stroke-width="12.5" stroke-linecap="round" stroke-linejoin="round"/>
<rect x="1028.0" y="793.8" width="26" height="9" fill="#fff"/>
<path d="M985.2,736.2 V767.5 H1091.4 V736.2" fill="none" stroke="#000" stroke-width="12.5" stroke-linecap="round" stroke-linejoin="round"/>
<path d="M1041,736.2 V1139.5 H919 V1048.5" fill="none" stroke="#000" stroke-width="12.5" stroke-linecap="round" stroke-linejoin="round"/>
<path d="M859.2,1048.5 V1108.5 H979.4 V1048.5" fill="none" stroke="#000" stroke-width="12.5" stroke-linecap="round" stroke-linejoin="round"/>
<rect x="1528.2" y="793.8" width="26" height="9" fill="#fff"/>
<path d="M1541.2,733.8 V828.5 H1084.8 V951.6" fill="none" stroke="#000" stroke-width="12.5" stroke-linecap="round" stroke-linejoin="round"/>
<rect x="1979.7" y="793.8" width="26" height="9" fill="#fff"/>
<path d="M1992.7,733.8 V1031.2 H1188.3 V952.5" fill="none" stroke="#000" stroke-width="12.5" stroke-linecap="round" stroke-linejoin="round"/>
</svg>
</body></html>
